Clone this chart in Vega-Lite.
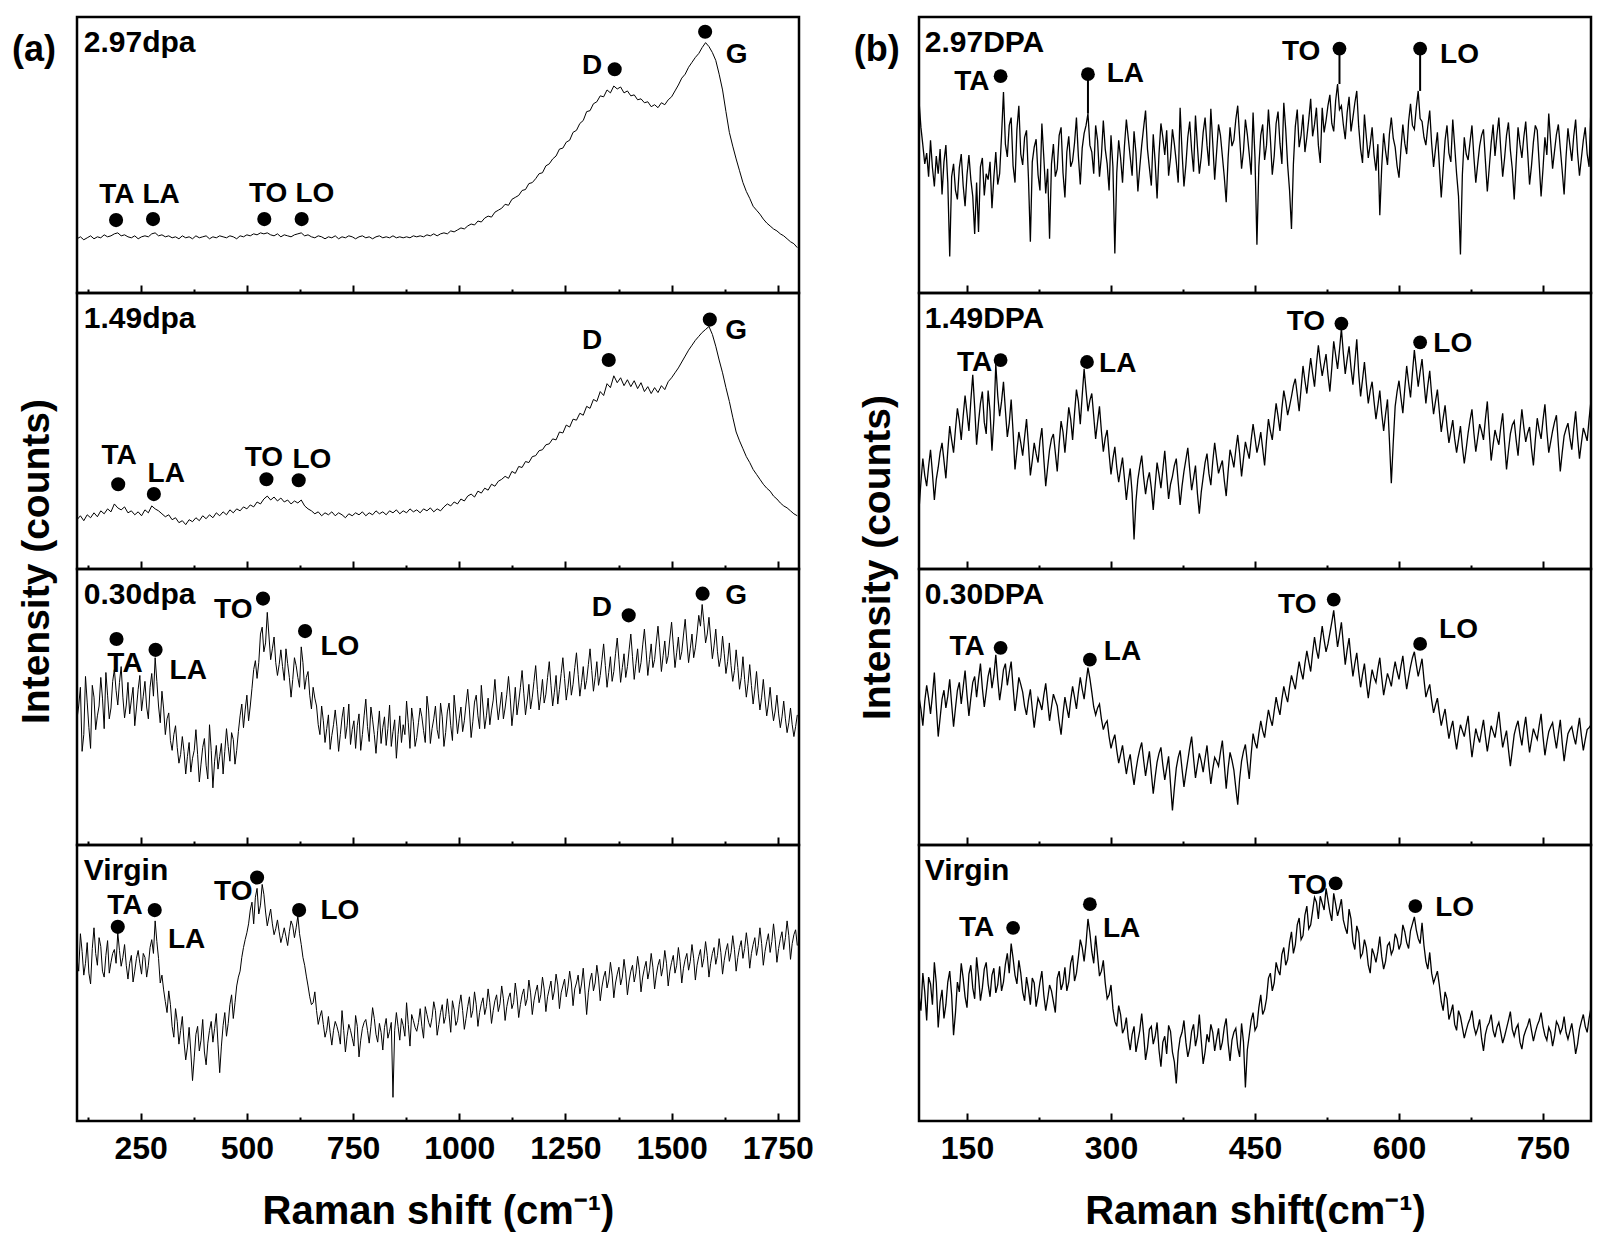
{
"$schema": "https://vega.github.io/schema/vega-lite/v6.json",
"padding": {"left": 10, "top": 15, "right": 5, "bottom": 5},
"background": "white",
"config": {
 "font": "Liberation Sans",
 "view": {"stroke": "black", "strokeWidth": 2.5},
 "axis": {"grid": false, "labelFontWeight": "bold", "titleFontWeight": "bold", "labelColor": "black", "titleColor": "black", "tickColor": "black", "tickWidth": 2, "labelFontSize": 32, "titleFontSize": 40}
},
"datasets": {
"a1": [{"x":100,"y":55},{"x":108,"y":57},{"x":116,"y":54},{"x":124,"y":56},{"x":132,"y":58},{"x":140,"y":55},{"x":148,"y":57},{"x":156,"y":56},{"x":164,"y":59},{"x":172,"y":57},{"x":180,"y":58},{"x":188,"y":60},{"x":196,"y":61},{"x":204,"y":58},{"x":212,"y":59},{"x":220,"y":57},{"x":228,"y":56},{"x":236,"y":58},{"x":244,"y":55},{"x":252,"y":57},{"x":260,"y":58},{"x":268,"y":57},{"x":276,"y":60},{"x":284,"y":61},{"x":292,"y":58},{"x":300,"y":59},{"x":308,"y":57},{"x":316,"y":58},{"x":324,"y":56},{"x":332,"y":57},{"x":340,"y":55},{"x":348,"y":58},{"x":356,"y":56},{"x":364,"y":57},{"x":372,"y":55},{"x":380,"y":58},{"x":388,"y":56},{"x":396,"y":57},{"x":404,"y":58},{"x":412,"y":55},{"x":420,"y":57},{"x":428,"y":56},{"x":436,"y":58},{"x":444,"y":57},{"x":452,"y":56},{"x":460,"y":58},{"x":468,"y":57},{"x":476,"y":55},{"x":484,"y":58},{"x":492,"y":57},{"x":500,"y":59},{"x":508,"y":58},{"x":516,"y":60},{"x":524,"y":59},{"x":532,"y":61},{"x":540,"y":60},{"x":548,"y":61},{"x":556,"y":59},{"x":564,"y":58},{"x":572,"y":60},{"x":580,"y":57},{"x":588,"y":59},{"x":596,"y":58},{"x":604,"y":57},{"x":612,"y":59},{"x":620,"y":60},{"x":628,"y":61},{"x":636,"y":58},{"x":644,"y":59},{"x":652,"y":57},{"x":660,"y":56},{"x":668,"y":58},{"x":676,"y":57},{"x":684,"y":55},{"x":692,"y":57},{"x":700,"y":56},{"x":708,"y":58},{"x":716,"y":55},{"x":724,"y":57},{"x":732,"y":56},{"x":740,"y":58},{"x":748,"y":57},{"x":756,"y":55},{"x":764,"y":57},{"x":772,"y":58},{"x":780,"y":56},{"x":788,"y":57},{"x":796,"y":55},{"x":804,"y":57},{"x":812,"y":58},{"x":820,"y":56},{"x":828,"y":57},{"x":836,"y":56},{"x":844,"y":58},{"x":852,"y":56},{"x":860,"y":57},{"x":868,"y":56},{"x":876,"y":57},{"x":884,"y":56},{"x":892,"y":58},{"x":900,"y":57},{"x":908,"y":58},{"x":916,"y":57},{"x":924,"y":59},{"x":932,"y":58},{"x":940,"y":60},{"x":948,"y":58},{"x":956,"y":60},{"x":964,"y":61},{"x":972,"y":60},{"x":980,"y":63},{"x":988,"y":62},{"x":996,"y":64},{"x":1004,"y":66},{"x":1012,"y":65},{"x":1020,"y":68},{"x":1028,"y":70},{"x":1036,"y":69},{"x":1044,"y":73},{"x":1052,"y":72},{"x":1060,"y":76},{"x":1068,"y":78},{"x":1076,"y":77},{"x":1084,"y":82},{"x":1092,"y":84},{"x":1100,"y":86},{"x":1108,"y":90},{"x":1116,"y":89},{"x":1124,"y":95},{"x":1132,"y":97},{"x":1140,"y":99},{"x":1148,"y":104},{"x":1156,"y":105},{"x":1164,"y":111},{"x":1172,"y":112},{"x":1180,"y":116},{"x":1188,"y":121},{"x":1196,"y":122},{"x":1204,"y":129},{"x":1212,"y":131},{"x":1220,"y":136},{"x":1228,"y":139},{"x":1236,"y":146},{"x":1244,"y":147},{"x":1252,"y":153},{"x":1260,"y":155},{"x":1268,"y":163},{"x":1276,"y":165},{"x":1284,"y":172},{"x":1292,"y":175},{"x":1300,"y":184},{"x":1308,"y":185},{"x":1316,"y":192},{"x":1324,"y":194},{"x":1332,"y":200},{"x":1340,"y":199},{"x":1348,"y":206},{"x":1356,"y":203},{"x":1364,"y":210},{"x":1372,"y":207},{"x":1380,"y":209},{"x":1388,"y":203},{"x":1396,"y":205},{"x":1404,"y":200},{"x":1412,"y":201},{"x":1420,"y":196},{"x":1428,"y":197},{"x":1436,"y":193},{"x":1444,"y":194},{"x":1452,"y":189},{"x":1460,"y":191},{"x":1468,"y":188},{"x":1476,"y":193},{"x":1484,"y":191},{"x":1492,"y":196},{"x":1500,"y":199},{"x":1508,"y":205},{"x":1516,"y":211},{"x":1524,"y":218},{"x":1532,"y":222},{"x":1540,"y":229},{"x":1548,"y":234},{"x":1556,"y":239},{"x":1564,"y":243},{"x":1572,"y":249},{"x":1580,"y":254},{"x":1588,"y":250},{"x":1596,"y":244},{"x":1604,"y":236},{"x":1612,"y":222},{"x":1620,"y":206},{"x":1628,"y":184},{"x":1636,"y":163},{"x":1644,"y":149},{"x":1652,"y":136},{"x":1660,"y":124},{"x":1668,"y":112},{"x":1676,"y":103},{"x":1684,"y":96},{"x":1692,"y":88},{"x":1700,"y":84},{"x":1708,"y":80},{"x":1716,"y":75},{"x":1724,"y":71},{"x":1732,"y":68},{"x":1740,"y":65},{"x":1748,"y":63},{"x":1756,"y":60},{"x":1764,"y":58},{"x":1772,"y":55},{"x":1780,"y":52},{"x":1788,"y":50},{"x":1796,"y":46}],
"a2": [{"x":100,"y":50},{"x":108,"y":54},{"x":116,"y":49},{"x":124,"y":55},{"x":132,"y":52},{"x":140,"y":57},{"x":148,"y":53},{"x":156,"y":59},{"x":164,"y":56},{"x":172,"y":61},{"x":180,"y":58},{"x":188,"y":66},{"x":196,"y":62},{"x":204,"y":60},{"x":212,"y":63},{"x":220,"y":57},{"x":228,"y":59},{"x":236,"y":55},{"x":244,"y":58},{"x":252,"y":54},{"x":260,"y":60},{"x":268,"y":57},{"x":276,"y":64},{"x":284,"y":61},{"x":292,"y":59},{"x":300,"y":56},{"x":308,"y":53},{"x":316,"y":55},{"x":324,"y":50},{"x":332,"y":52},{"x":340,"y":47},{"x":348,"y":49},{"x":356,"y":45},{"x":364,"y":50},{"x":372,"y":48},{"x":380,"y":52},{"x":388,"y":49},{"x":396,"y":54},{"x":404,"y":51},{"x":412,"y":55},{"x":420,"y":52},{"x":428,"y":57},{"x":436,"y":54},{"x":444,"y":58},{"x":452,"y":55},{"x":460,"y":60},{"x":468,"y":57},{"x":476,"y":61},{"x":484,"y":59},{"x":492,"y":63},{"x":500,"y":61},{"x":508,"y":65},{"x":516,"y":63},{"x":524,"y":68},{"x":532,"y":66},{"x":540,"y":71},{"x":548,"y":74},{"x":556,"y":70},{"x":564,"y":73},{"x":572,"y":69},{"x":580,"y":72},{"x":588,"y":68},{"x":596,"y":70},{"x":604,"y":66},{"x":612,"y":69},{"x":620,"y":67},{"x":628,"y":70},{"x":636,"y":64},{"x":644,"y":61},{"x":652,"y":59},{"x":660,"y":56},{"x":668,"y":58},{"x":676,"y":54},{"x":684,"y":57},{"x":692,"y":55},{"x":700,"y":58},{"x":708,"y":54},{"x":716,"y":57},{"x":724,"y":55},{"x":732,"y":52},{"x":740,"y":56},{"x":748,"y":54},{"x":756,"y":57},{"x":764,"y":55},{"x":772,"y":58},{"x":780,"y":54},{"x":788,"y":57},{"x":796,"y":55},{"x":804,"y":59},{"x":812,"y":56},{"x":820,"y":58},{"x":828,"y":55},{"x":836,"y":59},{"x":844,"y":57},{"x":852,"y":60},{"x":860,"y":56},{"x":868,"y":59},{"x":876,"y":57},{"x":884,"y":61},{"x":892,"y":58},{"x":900,"y":60},{"x":908,"y":57},{"x":916,"y":61},{"x":924,"y":59},{"x":932,"y":62},{"x":940,"y":58},{"x":948,"y":61},{"x":956,"y":59},{"x":964,"y":63},{"x":972,"y":66},{"x":980,"y":64},{"x":988,"y":68},{"x":996,"y":66},{"x":1004,"y":71},{"x":1012,"y":69},{"x":1020,"y":74},{"x":1028,"y":76},{"x":1036,"y":73},{"x":1044,"y":79},{"x":1052,"y":77},{"x":1060,"y":82},{"x":1068,"y":80},{"x":1076,"y":86},{"x":1084,"y":84},{"x":1092,"y":89},{"x":1100,"y":91},{"x":1108,"y":94},{"x":1116,"y":92},{"x":1124,"y":99},{"x":1132,"y":97},{"x":1140,"y":104},{"x":1148,"y":103},{"x":1156,"y":109},{"x":1164,"y":108},{"x":1172,"y":114},{"x":1180,"y":115},{"x":1188,"y":120},{"x":1196,"y":121},{"x":1204,"y":126},{"x":1212,"y":127},{"x":1220,"y":132},{"x":1228,"y":131},{"x":1236,"y":139},{"x":1244,"y":138},{"x":1252,"y":146},{"x":1260,"y":144},{"x":1268,"y":152},{"x":1276,"y":151},{"x":1284,"y":158},{"x":1292,"y":156},{"x":1300,"y":165},{"x":1308,"y":163},{"x":1316,"y":172},{"x":1324,"y":170},{"x":1332,"y":180},{"x":1340,"y":176},{"x":1348,"y":188},{"x":1356,"y":184},{"x":1364,"y":196},{"x":1372,"y":189},{"x":1380,"y":194},{"x":1388,"y":186},{"x":1396,"y":192},{"x":1404,"y":185},{"x":1412,"y":191},{"x":1420,"y":183},{"x":1428,"y":189},{"x":1436,"y":180},{"x":1444,"y":185},{"x":1452,"y":178},{"x":1460,"y":184},{"x":1468,"y":179},{"x":1476,"y":186},{"x":1484,"y":182},{"x":1492,"y":190},{"x":1500,"y":194},{"x":1508,"y":199},{"x":1516,"y":204},{"x":1524,"y":210},{"x":1532,"y":216},{"x":1540,"y":222},{"x":1548,"y":227},{"x":1556,"y":232},{"x":1564,"y":236},{"x":1572,"y":240},{"x":1580,"y":243},{"x":1588,"y":246},{"x":1596,"y":238},{"x":1604,"y":226},{"x":1612,"y":212},{"x":1620,"y":199},{"x":1628,"y":184},{"x":1636,"y":170},{"x":1644,"y":154},{"x":1652,"y":139},{"x":1660,"y":130},{"x":1668,"y":122},{"x":1676,"y":114},{"x":1684,"y":108},{"x":1692,"y":101},{"x":1700,"y":96},{"x":1708,"y":91},{"x":1716,"y":86},{"x":1724,"y":82},{"x":1732,"y":79},{"x":1740,"y":74},{"x":1748,"y":71},{"x":1756,"y":67},{"x":1764,"y":64},{"x":1772,"y":62},{"x":1780,"y":59},{"x":1788,"y":56},{"x":1796,"y":54}],
"a3": [{"x":100,"y":128},{"x":104,"y":141},{"x":108,"y":160},{"x":112,"y":95},{"x":116,"y":112},{"x":120,"y":171},{"x":124,"y":145},{"x":128,"y":119},{"x":132,"y":98},{"x":136,"y":162},{"x":140,"y":150},{"x":144,"y":117},{"x":148,"y":131},{"x":152,"y":141},{"x":156,"y":170},{"x":160,"y":149},{"x":164,"y":118},{"x":168,"y":175},{"x":172,"y":152},{"x":176,"y":128},{"x":180,"y":139},{"x":184,"y":166},{"x":188,"y":178},{"x":192,"y":157},{"x":196,"y":142},{"x":200,"y":165},{"x":204,"y":181},{"x":208,"y":150},{"x":212,"y":129},{"x":216,"y":142},{"x":220,"y":165},{"x":224,"y":133},{"x":228,"y":147},{"x":232,"y":160},{"x":236,"y":121},{"x":240,"y":139},{"x":244,"y":158},{"x":248,"y":172},{"x":252,"y":136},{"x":256,"y":151},{"x":260,"y":166},{"x":264,"y":140},{"x":268,"y":128},{"x":272,"y":160},{"x":276,"y":174},{"x":280,"y":151},{"x":284,"y":190},{"x":288,"y":166},{"x":292,"y":141},{"x":296,"y":124},{"x":300,"y":156},{"x":304,"y":138},{"x":308,"y":112},{"x":312,"y":128},{"x":316,"y":134},{"x":320,"y":106},{"x":324,"y":96},{"x":328,"y":112},{"x":332,"y":121},{"x":336,"y":99},{"x":340,"y":83},{"x":344,"y":92},{"x":348,"y":110},{"x":352,"y":95},{"x":356,"y":72},{"x":360,"y":90},{"x":364,"y":104},{"x":368,"y":74},{"x":372,"y":88},{"x":376,"y":96},{"x":380,"y":117},{"x":384,"y":92},{"x":388,"y":64},{"x":392,"y":82},{"x":396,"y":99},{"x":400,"y":108},{"x":404,"y":81},{"x":408,"y":67},{"x":412,"y":122},{"x":416,"y":96},{"x":420,"y":58},{"x":424,"y":85},{"x":428,"y":101},{"x":432,"y":77},{"x":436,"y":90},{"x":440,"y":103},{"x":444,"y":72},{"x":448,"y":95},{"x":452,"y":118},{"x":456,"y":100},{"x":460,"y":85},{"x":464,"y":114},{"x":468,"y":107},{"x":472,"y":82},{"x":476,"y":96},{"x":480,"y":115},{"x":484,"y":131},{"x":488,"y":143},{"x":492,"y":119},{"x":496,"y":137},{"x":500,"y":152},{"x":504,"y":126},{"x":508,"y":141},{"x":512,"y":159},{"x":516,"y":178},{"x":520,"y":187},{"x":524,"y":169},{"x":528,"y":185},{"x":532,"y":214},{"x":536,"y":221},{"x":540,"y":196},{"x":544,"y":205},{"x":548,"y":236},{"x":552,"y":212},{"x":556,"y":188},{"x":560,"y":199},{"x":564,"y":211},{"x":568,"y":185},{"x":572,"y":172},{"x":576,"y":183},{"x":580,"y":198},{"x":584,"y":181},{"x":588,"y":167},{"x":592,"y":199},{"x":596,"y":184},{"x":600,"y":170},{"x":604,"y":150},{"x":608,"y":168},{"x":612,"y":190},{"x":616,"y":182},{"x":620,"y":170},{"x":624,"y":160},{"x":628,"y":201},{"x":632,"y":185},{"x":636,"y":158},{"x":640,"y":170},{"x":644,"y":176},{"x":648,"y":152},{"x":652,"y":138},{"x":656,"y":160},{"x":660,"y":149},{"x":664,"y":141},{"x":668,"y":122},{"x":672,"y":112},{"x":676,"y":141},{"x":680,"y":126},{"x":684,"y":104},{"x":688,"y":118},{"x":692,"y":132},{"x":696,"y":97},{"x":700,"y":111},{"x":704,"y":122},{"x":708,"y":137},{"x":712,"y":120},{"x":716,"y":95},{"x":720,"y":112},{"x":724,"y":129},{"x":728,"y":140},{"x":732,"y":108},{"x":736,"y":121},{"x":740,"y":143},{"x":744,"y":102},{"x":748,"y":117},{"x":752,"y":126},{"x":756,"y":98},{"x":760,"y":121},{"x":764,"y":133},{"x":768,"y":96},{"x":772,"y":112},{"x":776,"y":131},{"x":780,"y":148},{"x":784,"y":120},{"x":788,"y":105},{"x":792,"y":140},{"x":796,"y":127},{"x":800,"y":112},{"x":804,"y":93},{"x":808,"y":116},{"x":812,"y":136},{"x":816,"y":103},{"x":820,"y":119},{"x":824,"y":130},{"x":828,"y":101},{"x":832,"y":118},{"x":836,"y":142},{"x":840,"y":100},{"x":844,"y":115},{"x":848,"y":127},{"x":852,"y":88},{"x":856,"y":112},{"x":860,"y":131},{"x":864,"y":104},{"x":868,"y":122},{"x":872,"y":112},{"x":876,"y":146},{"x":880,"y":124},{"x":884,"y":98},{"x":888,"y":139},{"x":892,"y":125},{"x":896,"y":100},{"x":900,"y":109},{"x":904,"y":124},{"x":908,"y":139},{"x":912,"y":130},{"x":916,"y":116},{"x":920,"y":104},{"x":924,"y":151},{"x":928,"y":136},{"x":932,"y":103},{"x":936,"y":118},{"x":940,"y":128},{"x":944,"y":141},{"x":948,"y":117},{"x":952,"y":108},{"x":956,"y":144},{"x":960,"y":130},{"x":964,"y":100},{"x":968,"y":114},{"x":972,"y":135},{"x":976,"y":144},{"x":980,"y":121},{"x":984,"y":106},{"x":988,"y":152},{"x":992,"y":133},{"x":996,"y":113},{"x":1000,"y":128},{"x":1004,"y":140},{"x":1008,"y":115},{"x":1012,"y":126},{"x":1016,"y":143},{"x":1020,"y":158},{"x":1024,"y":137},{"x":1028,"y":109},{"x":1032,"y":125},{"x":1036,"y":145},{"x":1040,"y":152},{"x":1044,"y":131},{"x":1048,"y":118},{"x":1052,"y":162},{"x":1056,"y":140},{"x":1060,"y":118},{"x":1064,"y":131},{"x":1068,"y":149},{"x":1072,"y":122},{"x":1076,"y":136},{"x":1080,"y":147},{"x":1084,"y":168},{"x":1088,"y":144},{"x":1092,"y":127},{"x":1096,"y":141},{"x":1100,"y":155},{"x":1104,"y":128},{"x":1108,"y":139},{"x":1112,"y":153},{"x":1116,"y":171},{"x":1120,"y":150},{"x":1124,"y":121},{"x":1128,"y":138},{"x":1132,"y":160},{"x":1136,"y":132},{"x":1140,"y":145},{"x":1144,"y":160},{"x":1148,"y":177},{"x":1152,"y":154},{"x":1156,"y":132},{"x":1160,"y":146},{"x":1164,"y":163},{"x":1168,"y":138},{"x":1172,"y":150},{"x":1176,"y":166},{"x":1180,"y":182},{"x":1184,"y":158},{"x":1188,"y":137},{"x":1192,"y":151},{"x":1196,"y":168},{"x":1200,"y":144},{"x":1204,"y":153},{"x":1208,"y":170},{"x":1212,"y":186},{"x":1216,"y":162},{"x":1220,"y":141},{"x":1224,"y":155},{"x":1228,"y":172},{"x":1232,"y":143},{"x":1236,"y":158},{"x":1240,"y":174},{"x":1244,"y":190},{"x":1248,"y":169},{"x":1252,"y":147},{"x":1256,"y":160},{"x":1260,"y":176},{"x":1264,"y":152},{"x":1268,"y":163},{"x":1272,"y":180},{"x":1276,"y":195},{"x":1280,"y":173},{"x":1284,"y":151},{"x":1288,"y":165},{"x":1292,"y":181},{"x":1296,"y":158},{"x":1300,"y":167},{"x":1304,"y":183},{"x":1308,"y":199},{"x":1312,"y":177},{"x":1316,"y":156},{"x":1320,"y":170},{"x":1324,"y":186},{"x":1328,"y":162},{"x":1332,"y":172},{"x":1336,"y":188},{"x":1340,"y":204},{"x":1344,"y":182},{"x":1348,"y":160},{"x":1352,"y":175},{"x":1356,"y":191},{"x":1360,"y":166},{"x":1364,"y":176},{"x":1368,"y":194},{"x":1372,"y":210},{"x":1376,"y":188},{"x":1380,"y":165},{"x":1384,"y":180},{"x":1388,"y":194},{"x":1392,"y":170},{"x":1396,"y":181},{"x":1400,"y":198},{"x":1404,"y":214},{"x":1408,"y":191},{"x":1412,"y":168},{"x":1416,"y":184},{"x":1420,"y":199},{"x":1424,"y":175},{"x":1428,"y":185},{"x":1432,"y":203},{"x":1436,"y":219},{"x":1440,"y":197},{"x":1444,"y":172},{"x":1448,"y":188},{"x":1452,"y":204},{"x":1456,"y":180},{"x":1460,"y":188},{"x":1464,"y":206},{"x":1468,"y":222},{"x":1472,"y":200},{"x":1476,"y":176},{"x":1480,"y":192},{"x":1484,"y":207},{"x":1488,"y":184},{"x":1492,"y":192},{"x":1496,"y":210},{"x":1500,"y":226},{"x":1504,"y":203},{"x":1508,"y":180},{"x":1512,"y":195},{"x":1516,"y":211},{"x":1520,"y":188},{"x":1524,"y":196},{"x":1528,"y":213},{"x":1532,"y":229},{"x":1536,"y":206},{"x":1540,"y":185},{"x":1544,"y":199},{"x":1548,"y":214},{"x":1552,"y":190},{"x":1556,"y":200},{"x":1560,"y":215},{"x":1564,"y":233},{"x":1568,"y":222},{"x":1572,"y":244},{"x":1576,"y":226},{"x":1580,"y":205},{"x":1584,"y":214},{"x":1588,"y":231},{"x":1592,"y":210},{"x":1596,"y":189},{"x":1600,"y":202},{"x":1604,"y":219},{"x":1608,"y":196},{"x":1612,"y":181},{"x":1616,"y":190},{"x":1620,"y":212},{"x":1624,"y":194},{"x":1628,"y":174},{"x":1632,"y":186},{"x":1636,"y":205},{"x":1640,"y":182},{"x":1644,"y":166},{"x":1648,"y":177},{"x":1652,"y":198},{"x":1656,"y":180},{"x":1660,"y":158},{"x":1664,"y":170},{"x":1668,"y":191},{"x":1672,"y":168},{"x":1676,"y":150},{"x":1680,"y":164},{"x":1684,"y":183},{"x":1688,"y":162},{"x":1692,"y":143},{"x":1696,"y":158},{"x":1700,"y":176},{"x":1704,"y":154},{"x":1708,"y":137},{"x":1712,"y":150},{"x":1716,"y":168},{"x":1720,"y":148},{"x":1724,"y":131},{"x":1728,"y":143},{"x":1732,"y":160},{"x":1736,"y":140},{"x":1740,"y":126},{"x":1744,"y":136},{"x":1748,"y":152},{"x":1752,"y":133},{"x":1756,"y":119},{"x":1760,"y":130},{"x":1764,"y":146},{"x":1768,"y":128},{"x":1772,"y":114},{"x":1776,"y":124},{"x":1780,"y":139},{"x":1784,"y":122},{"x":1788,"y":110},{"x":1792,"y":120},{"x":1796,"y":132}],
"a4": [{"x":100,"y":165},{"x":104,"y":152},{"x":108,"y":190},{"x":112,"y":172},{"x":116,"y":148},{"x":120,"y":160},{"x":124,"y":181},{"x":128,"y":150},{"x":132,"y":139},{"x":136,"y":175},{"x":140,"y":196},{"x":144,"y":170},{"x":148,"y":158},{"x":152,"y":186},{"x":156,"y":177},{"x":160,"y":152},{"x":164,"y":146},{"x":168,"y":168},{"x":172,"y":183},{"x":176,"y":150},{"x":180,"y":161},{"x":184,"y":170},{"x":188,"y":174},{"x":192,"y":160},{"x":196,"y":191},{"x":200,"y":173},{"x":204,"y":157},{"x":208,"y":166},{"x":212,"y":179},{"x":216,"y":158},{"x":220,"y":144},{"x":224,"y":160},{"x":228,"y":168},{"x":232,"y":141},{"x":236,"y":152},{"x":240,"y":165},{"x":244,"y":173},{"x":248,"y":160},{"x":252,"y":149},{"x":256,"y":170},{"x":260,"y":166},{"x":264,"y":146},{"x":268,"y":158},{"x":272,"y":176},{"x":276,"y":184},{"x":280,"y":170},{"x":284,"y":203},{"x":288,"y":182},{"x":292,"y":165},{"x":296,"y":140},{"x":300,"y":148},{"x":304,"y":133},{"x":308,"y":121},{"x":312,"y":110},{"x":316,"y":132},{"x":320,"y":118},{"x":324,"y":96},{"x":328,"y":85},{"x":332,"y":114},{"x":336,"y":101},{"x":340,"y":78},{"x":344,"y":92},{"x":348,"y":106},{"x":352,"y":80},{"x":356,"y":62},{"x":360,"y":75},{"x":364,"y":95},{"x":368,"y":70},{"x":372,"y":41},{"x":376,"y":64},{"x":380,"y":88},{"x":384,"y":96},{"x":388,"y":71},{"x":392,"y":82},{"x":396,"y":103},{"x":400,"y":70},{"x":404,"y":57},{"x":408,"y":79},{"x":412,"y":92},{"x":416,"y":101},{"x":420,"y":80},{"x":424,"y":94},{"x":428,"y":109},{"x":432,"y":78},{"x":436,"y":49},{"x":440,"y":76},{"x":444,"y":97},{"x":448,"y":110},{"x":452,"y":86},{"x":456,"y":99},{"x":460,"y":118},{"x":464,"y":128},{"x":468,"y":104},{"x":472,"y":120},{"x":476,"y":137},{"x":480,"y":146},{"x":484,"y":152},{"x":488,"y":166},{"x":492,"y":176},{"x":496,"y":184},{"x":500,"y":191},{"x":504,"y":200},{"x":508,"y":214},{"x":512,"y":222},{"x":516,"y":200},{"x":520,"y":227},{"x":524,"y":236},{"x":528,"y":210},{"x":532,"y":219},{"x":536,"y":240},{"x":540,"y":230},{"x":544,"y":212},{"x":548,"y":198},{"x":552,"y":207},{"x":556,"y":215},{"x":560,"y":200},{"x":564,"y":189},{"x":568,"y":195},{"x":572,"y":204},{"x":576,"y":192},{"x":580,"y":181},{"x":584,"y":188},{"x":588,"y":196},{"x":592,"y":187},{"x":596,"y":178},{"x":600,"y":192},{"x":604,"y":203},{"x":608,"y":198},{"x":612,"y":186},{"x":616,"y":196},{"x":620,"y":208},{"x":624,"y":190},{"x":628,"y":179},{"x":632,"y":166},{"x":636,"y":158},{"x":640,"y":147},{"x":644,"y":137},{"x":648,"y":126},{"x":652,"y":118},{"x":656,"y":120},{"x":660,"y":131},{"x":664,"y":112},{"x":668,"y":98},{"x":672,"y":106},{"x":676,"y":112},{"x":680,"y":98},{"x":684,"y":85},{"x":688,"y":92},{"x":692,"y":106},{"x":696,"y":90},{"x":700,"y":77},{"x":704,"y":92},{"x":708,"y":101},{"x":712,"y":96},{"x":716,"y":89},{"x":720,"y":78},{"x":724,"y":112},{"x":728,"y":92},{"x":732,"y":70},{"x":736,"y":86},{"x":740,"y":98},{"x":744,"y":92},{"x":748,"y":84},{"x":752,"y":76},{"x":756,"y":107},{"x":760,"y":96},{"x":764,"y":65},{"x":768,"y":82},{"x":772,"y":94},{"x":776,"y":100},{"x":780,"y":103},{"x":784,"y":92},{"x":788,"y":79},{"x":792,"y":96},{"x":796,"y":115},{"x":800,"y":104},{"x":804,"y":88},{"x":808,"y":80},{"x":812,"y":99},{"x":816,"y":90},{"x":820,"y":72},{"x":824,"y":95},{"x":828,"y":104},{"x":832,"y":84},{"x":836,"y":91},{"x":840,"y":100},{"x":844,"y":24},{"x":848,"y":92},{"x":852,"y":110},{"x":856,"y":96},{"x":860,"y":82},{"x":864,"y":104},{"x":868,"y":97},{"x":872,"y":86},{"x":876,"y":120},{"x":880,"y":98},{"x":884,"y":76},{"x":888,"y":108},{"x":892,"y":102},{"x":896,"y":95},{"x":900,"y":91},{"x":904,"y":100},{"x":908,"y":114},{"x":912,"y":96},{"x":916,"y":84},{"x":920,"y":116},{"x":924,"y":108},{"x":928,"y":100},{"x":932,"y":95},{"x":936,"y":105},{"x":940,"y":121},{"x":944,"y":112},{"x":948,"y":87},{"x":952,"y":98},{"x":956,"y":110},{"x":960,"y":118},{"x":964,"y":99},{"x":968,"y":106},{"x":972,"y":124},{"x":976,"y":108},{"x":980,"y":90},{"x":984,"y":122},{"x":988,"y":113},{"x":992,"y":97},{"x":996,"y":102},{"x":1000,"y":118},{"x":1004,"y":128},{"x":1008,"y":112},{"x":1012,"y":93},{"x":1016,"y":104},{"x":1020,"y":116},{"x":1024,"y":126},{"x":1028,"y":105},{"x":1032,"y":112},{"x":1036,"y":131},{"x":1040,"y":118},{"x":1044,"y":96},{"x":1048,"y":110},{"x":1052,"y":119},{"x":1056,"y":125},{"x":1060,"y":108},{"x":1064,"y":116},{"x":1068,"y":134},{"x":1072,"y":120},{"x":1076,"y":99},{"x":1080,"y":112},{"x":1084,"y":122},{"x":1088,"y":128},{"x":1092,"y":111},{"x":1096,"y":119},{"x":1100,"y":137},{"x":1104,"y":124},{"x":1108,"y":102},{"x":1112,"y":116},{"x":1116,"y":125},{"x":1120,"y":130},{"x":1124,"y":114},{"x":1128,"y":120},{"x":1132,"y":140},{"x":1136,"y":126},{"x":1140,"y":105},{"x":1144,"y":118},{"x":1148,"y":128},{"x":1152,"y":134},{"x":1156,"y":117},{"x":1160,"y":124},{"x":1164,"y":143},{"x":1168,"y":130},{"x":1172,"y":108},{"x":1176,"y":122},{"x":1180,"y":131},{"x":1184,"y":138},{"x":1188,"y":120},{"x":1192,"y":128},{"x":1196,"y":146},{"x":1200,"y":134},{"x":1204,"y":111},{"x":1208,"y":126},{"x":1212,"y":134},{"x":1216,"y":142},{"x":1220,"y":123},{"x":1224,"y":132},{"x":1228,"y":149},{"x":1232,"y":138},{"x":1236,"y":114},{"x":1240,"y":130},{"x":1244,"y":137},{"x":1248,"y":144},{"x":1252,"y":126},{"x":1256,"y":136},{"x":1260,"y":152},{"x":1264,"y":140},{"x":1268,"y":117},{"x":1272,"y":134},{"x":1276,"y":140},{"x":1280,"y":148},{"x":1284,"y":129},{"x":1288,"y":139},{"x":1292,"y":155},{"x":1296,"y":132},{"x":1300,"y":108},{"x":1304,"y":130},{"x":1308,"y":143},{"x":1312,"y":150},{"x":1316,"y":132},{"x":1320,"y":140},{"x":1324,"y":158},{"x":1328,"y":145},{"x":1332,"y":122},{"x":1336,"y":136},{"x":1340,"y":146},{"x":1344,"y":152},{"x":1348,"y":135},{"x":1352,"y":143},{"x":1356,"y":161},{"x":1360,"y":148},{"x":1364,"y":125},{"x":1368,"y":140},{"x":1372,"y":149},{"x":1376,"y":156},{"x":1380,"y":138},{"x":1384,"y":146},{"x":1388,"y":164},{"x":1392,"y":150},{"x":1396,"y":128},{"x":1400,"y":142},{"x":1404,"y":152},{"x":1408,"y":158},{"x":1412,"y":141},{"x":1416,"y":150},{"x":1420,"y":167},{"x":1424,"y":154},{"x":1428,"y":131},{"x":1432,"y":146},{"x":1436,"y":155},{"x":1440,"y":162},{"x":1444,"y":144},{"x":1448,"y":153},{"x":1452,"y":170},{"x":1456,"y":156},{"x":1460,"y":134},{"x":1464,"y":148},{"x":1468,"y":158},{"x":1472,"y":164},{"x":1476,"y":147},{"x":1480,"y":156},{"x":1484,"y":173},{"x":1488,"y":160},{"x":1492,"y":137},{"x":1496,"y":152},{"x":1500,"y":161},{"x":1504,"y":168},{"x":1508,"y":150},{"x":1512,"y":158},{"x":1516,"y":176},{"x":1520,"y":162},{"x":1524,"y":140},{"x":1528,"y":155},{"x":1532,"y":164},{"x":1536,"y":170},{"x":1540,"y":153},{"x":1544,"y":162},{"x":1548,"y":179},{"x":1552,"y":165},{"x":1556,"y":143},{"x":1560,"y":158},{"x":1564,"y":167},{"x":1568,"y":174},{"x":1572,"y":156},{"x":1576,"y":165},{"x":1580,"y":182},{"x":1584,"y":168},{"x":1588,"y":146},{"x":1592,"y":160},{"x":1596,"y":170},{"x":1600,"y":176},{"x":1604,"y":159},{"x":1608,"y":168},{"x":1612,"y":185},{"x":1616,"y":171},{"x":1620,"y":149},{"x":1624,"y":163},{"x":1628,"y":173},{"x":1632,"y":180},{"x":1636,"y":162},{"x":1640,"y":171},{"x":1644,"y":188},{"x":1648,"y":174},{"x":1652,"y":152},{"x":1656,"y":166},{"x":1660,"y":176},{"x":1664,"y":183},{"x":1668,"y":165},{"x":1672,"y":175},{"x":1676,"y":191},{"x":1680,"y":177},{"x":1684,"y":155},{"x":1688,"y":170},{"x":1692,"y":179},{"x":1696,"y":186},{"x":1700,"y":168},{"x":1704,"y":178},{"x":1708,"y":196},{"x":1712,"y":180},{"x":1716,"y":158},{"x":1720,"y":172},{"x":1724,"y":182},{"x":1728,"y":190},{"x":1732,"y":171},{"x":1736,"y":182},{"x":1740,"y":200},{"x":1744,"y":184},{"x":1748,"y":161},{"x":1752,"y":175},{"x":1756,"y":185},{"x":1760,"y":192},{"x":1764,"y":174},{"x":1768,"y":186},{"x":1772,"y":203},{"x":1776,"y":188},{"x":1780,"y":164},{"x":1784,"y":180},{"x":1788,"y":189},{"x":1792,"y":194},{"x":1796,"y":178}],
"b1": [{"x":100,"y":195},{"x":102,"y":168},{"x":104,"y":150},{"x":106,"y":131},{"x":108,"y":142},{"x":110,"y":118},{"x":112,"y":155},{"x":114,"y":127},{"x":116,"y":108},{"x":118,"y":139},{"x":120,"y":121},{"x":122,"y":146},{"x":124,"y":100},{"x":126,"y":133},{"x":128,"y":150},{"x":130,"y":112},{"x":132,"y":37},{"x":134,"y":118},{"x":136,"y":131},{"x":138,"y":104},{"x":140,"y":95},{"x":142,"y":127},{"x":144,"y":141},{"x":146,"y":109},{"x":148,"y":88},{"x":150,"y":120},{"x":152,"y":140},{"x":154,"y":115},{"x":156,"y":98},{"x":158,"y":60},{"x":160,"y":112},{"x":162,"y":62},{"x":164,"y":128},{"x":166,"y":137},{"x":168,"y":99},{"x":170,"y":121},{"x":172,"y":115},{"x":174,"y":133},{"x":176,"y":86},{"x":178,"y":118},{"x":180,"y":143},{"x":182,"y":110},{"x":184,"y":121},{"x":186,"y":160},{"x":188,"y":204},{"x":190,"y":151},{"x":192,"y":138},{"x":194,"y":170},{"x":196,"y":178},{"x":198,"y":129},{"x":200,"y":112},{"x":202,"y":166},{"x":204,"y":190},{"x":206,"y":141},{"x":208,"y":130},{"x":210,"y":158},{"x":212,"y":165},{"x":214,"y":117},{"x":216,"y":52},{"x":218,"y":133},{"x":220,"y":148},{"x":222,"y":156},{"x":224,"y":120},{"x":226,"y":104},{"x":228,"y":172},{"x":230,"y":138},{"x":232,"y":101},{"x":234,"y":126},{"x":236,"y":55},{"x":238,"y":131},{"x":240,"y":151},{"x":242,"y":118},{"x":244,"y":126},{"x":246,"y":160},{"x":248,"y":168},{"x":250,"y":122},{"x":252,"y":97},{"x":254,"y":143},{"x":256,"y":159},{"x":258,"y":128},{"x":260,"y":134},{"x":262,"y":152},{"x":264,"y":178},{"x":266,"y":139},{"x":268,"y":110},{"x":270,"y":147},{"x":272,"y":162},{"x":274,"y":170},{"x":276,"y":182},{"x":278,"y":150},{"x":280,"y":143},{"x":282,"y":121},{"x":284,"y":170},{"x":286,"y":155},{"x":288,"y":118},{"x":290,"y":139},{"x":292,"y":175},{"x":294,"y":146},{"x":296,"y":131},{"x":298,"y":104},{"x":300,"y":160},{"x":302,"y":128},{"x":304,"y":40},{"x":306,"y":122},{"x":308,"y":155},{"x":310,"y":137},{"x":312,"y":112},{"x":314,"y":149},{"x":316,"y":176},{"x":318,"y":157},{"x":320,"y":138},{"x":322,"y":119},{"x":324,"y":164},{"x":326,"y":142},{"x":328,"y":103},{"x":330,"y":128},{"x":332,"y":150},{"x":334,"y":168},{"x":336,"y":185},{"x":338,"y":146},{"x":340,"y":127},{"x":342,"y":109},{"x":344,"y":161},{"x":346,"y":133},{"x":348,"y":96},{"x":350,"y":141},{"x":352,"y":172},{"x":354,"y":158},{"x":356,"y":140},{"x":358,"y":165},{"x":360,"y":119},{"x":362,"y":137},{"x":364,"y":166},{"x":366,"y":151},{"x":368,"y":133},{"x":370,"y":112},{"x":372,"y":188},{"x":374,"y":143},{"x":376,"y":108},{"x":378,"y":130},{"x":380,"y":158},{"x":382,"y":174},{"x":384,"y":145},{"x":386,"y":123},{"x":388,"y":180},{"x":390,"y":149},{"x":392,"y":121},{"x":394,"y":138},{"x":396,"y":163},{"x":398,"y":178},{"x":400,"y":150},{"x":402,"y":129},{"x":404,"y":187},{"x":406,"y":152},{"x":408,"y":115},{"x":410,"y":143},{"x":412,"y":171},{"x":414,"y":160},{"x":416,"y":139},{"x":418,"y":118},{"x":420,"y":92},{"x":422,"y":137},{"x":424,"y":168},{"x":426,"y":149},{"x":428,"y":155},{"x":430,"y":176},{"x":432,"y":190},{"x":434,"y":158},{"x":436,"y":126},{"x":438,"y":144},{"x":440,"y":176},{"x":442,"y":161},{"x":444,"y":141},{"x":446,"y":120},{"x":448,"y":183},{"x":450,"y":137},{"x":452,"y":49},{"x":454,"y":128},{"x":456,"y":160},{"x":458,"y":171},{"x":460,"y":135},{"x":462,"y":150},{"x":464,"y":186},{"x":466,"y":157},{"x":468,"y":120},{"x":470,"y":139},{"x":472,"y":172},{"x":474,"y":184},{"x":476,"y":152},{"x":478,"y":131},{"x":480,"y":193},{"x":482,"y":166},{"x":484,"y":130},{"x":486,"y":104},{"x":488,"y":65},{"x":490,"y":131},{"x":492,"y":169},{"x":494,"y":186},{"x":496,"y":148},{"x":498,"y":160},{"x":500,"y":181},{"x":502,"y":143},{"x":504,"y":158},{"x":506,"y":176},{"x":508,"y":197},{"x":510,"y":159},{"x":512,"y":171},{"x":514,"y":188},{"x":516,"y":150},{"x":518,"y":132},{"x":520,"y":188},{"x":522,"y":163},{"x":524,"y":175},{"x":526,"y":190},{"x":528,"y":201},{"x":530,"y":172},{"x":532,"y":164},{"x":534,"y":195},{"x":536,"y":212},{"x":538,"y":186},{"x":540,"y":190},{"x":542,"y":171},{"x":544,"y":156},{"x":546,"y":183},{"x":548,"y":199},{"x":550,"y":164},{"x":552,"y":178},{"x":554,"y":193},{"x":556,"y":205},{"x":558,"y":169},{"x":560,"y":146},{"x":562,"y":132},{"x":564,"y":181},{"x":566,"y":158},{"x":568,"y":137},{"x":570,"y":151},{"x":572,"y":168},{"x":574,"y":140},{"x":576,"y":124},{"x":578,"y":151},{"x":580,"y":79},{"x":582,"y":128},{"x":584,"y":162},{"x":586,"y":144},{"x":588,"y":130},{"x":590,"y":161},{"x":592,"y":178},{"x":594,"y":157},{"x":596,"y":148},{"x":598,"y":129},{"x":600,"y":117},{"x":602,"y":146},{"x":604,"y":171},{"x":606,"y":152},{"x":608,"y":141},{"x":610,"y":174},{"x":612,"y":192},{"x":614,"y":170},{"x":616,"y":166},{"x":618,"y":188},{"x":620,"y":205},{"x":622,"y":177},{"x":624,"y":174},{"x":626,"y":158},{"x":628,"y":150},{"x":630,"y":169},{"x":632,"y":185},{"x":634,"y":152},{"x":636,"y":128},{"x":638,"y":146},{"x":640,"y":163},{"x":642,"y":130},{"x":644,"y":97},{"x":646,"y":126},{"x":648,"y":155},{"x":650,"y":170},{"x":652,"y":142},{"x":654,"y":133},{"x":656,"y":176},{"x":658,"y":149},{"x":660,"y":121},{"x":662,"y":98},{"x":664,"y":39},{"x":666,"y":120},{"x":668,"y":158},{"x":670,"y":141},{"x":672,"y":135},{"x":674,"y":153},{"x":676,"y":170},{"x":678,"y":138},{"x":680,"y":112},{"x":682,"y":131},{"x":684,"y":149},{"x":686,"y":160},{"x":688,"y":166},{"x":690,"y":134},{"x":692,"y":103},{"x":694,"y":127},{"x":696,"y":152},{"x":698,"y":171},{"x":700,"y":139},{"x":702,"y":160},{"x":704,"y":178},{"x":706,"y":146},{"x":708,"y":118},{"x":710,"y":137},{"x":712,"y":160},{"x":714,"y":173},{"x":716,"y":145},{"x":718,"y":126},{"x":720,"y":95},{"x":722,"y":132},{"x":724,"y":168},{"x":726,"y":151},{"x":728,"y":137},{"x":730,"y":158},{"x":732,"y":174},{"x":734,"y":143},{"x":736,"y":110},{"x":738,"y":129},{"x":740,"y":153},{"x":742,"y":170},{"x":744,"y":165},{"x":746,"y":132},{"x":748,"y":98},{"x":750,"y":126},{"x":752,"y":158},{"x":754,"y":140},{"x":756,"y":182},{"x":758,"y":153},{"x":760,"y":126},{"x":762,"y":144},{"x":764,"y":161},{"x":766,"y":171},{"x":768,"y":147},{"x":770,"y":124},{"x":772,"y":100},{"x":774,"y":138},{"x":776,"y":167},{"x":778,"y":150},{"x":780,"y":134},{"x":782,"y":159},{"x":784,"y":176},{"x":786,"y":142},{"x":788,"y":119},{"x":790,"y":137},{"x":792,"y":155},{"x":794,"y":168},{"x":796,"y":141},{"x":798,"y":128},{"x":800,"y":190}],
"b2": [{"x":100,"y":60},{"x":102,"y":88},{"x":104,"y":112},{"x":106,"y":95},{"x":108,"y":84},{"x":110,"y":104},{"x":112,"y":121},{"x":114,"y":97},{"x":116,"y":70},{"x":118,"y":91},{"x":120,"y":103},{"x":122,"y":118},{"x":124,"y":128},{"x":126,"y":110},{"x":128,"y":92},{"x":130,"y":120},{"x":132,"y":145},{"x":134,"y":131},{"x":136,"y":118},{"x":138,"y":142},{"x":140,"y":163},{"x":142,"y":150},{"x":144,"y":131},{"x":146,"y":155},{"x":148,"y":176},{"x":150,"y":158},{"x":152,"y":140},{"x":154,"y":171},{"x":156,"y":197},{"x":158,"y":164},{"x":160,"y":126},{"x":162,"y":149},{"x":164,"y":168},{"x":166,"y":180},{"x":168,"y":149},{"x":170,"y":137},{"x":172,"y":181},{"x":174,"y":160},{"x":176,"y":120},{"x":178,"y":152},{"x":180,"y":208},{"x":182,"y":176},{"x":184,"y":155},{"x":186,"y":170},{"x":188,"y":190},{"x":190,"y":161},{"x":192,"y":134},{"x":194,"y":148},{"x":196,"y":172},{"x":198,"y":139},{"x":200,"y":101},{"x":202,"y":120},{"x":204,"y":139},{"x":206,"y":128},{"x":208,"y":115},{"x":210,"y":134},{"x":212,"y":152},{"x":214,"y":126},{"x":216,"y":95},{"x":218,"y":110},{"x":220,"y":128},{"x":222,"y":117},{"x":224,"y":108},{"x":226,"y":130},{"x":228,"y":143},{"x":230,"y":112},{"x":232,"y":84},{"x":234,"y":103},{"x":236,"y":121},{"x":238,"y":132},{"x":240,"y":137},{"x":242,"y":118},{"x":244,"y":99},{"x":246,"y":127},{"x":248,"y":150},{"x":250,"y":139},{"x":252,"y":118},{"x":254,"y":141},{"x":256,"y":164},{"x":258,"y":152},{"x":260,"y":131},{"x":262,"y":158},{"x":264,"y":182},{"x":266,"y":170},{"x":268,"y":147},{"x":270,"y":176},{"x":272,"y":203},{"x":274,"y":181},{"x":276,"y":160},{"x":278,"y":171},{"x":280,"y":178},{"x":282,"y":155},{"x":284,"y":132},{"x":286,"y":149},{"x":288,"y":165},{"x":290,"y":140},{"x":292,"y":119},{"x":294,"y":133},{"x":296,"y":141},{"x":298,"y":117},{"x":300,"y":96},{"x":302,"y":112},{"x":304,"y":124},{"x":306,"y":103},{"x":308,"y":88},{"x":310,"y":101},{"x":312,"y":113},{"x":314,"y":92},{"x":316,"y":70},{"x":318,"y":88},{"x":320,"y":102},{"x":322,"y":77},{"x":324,"y":30},{"x":326,"y":69},{"x":328,"y":91},{"x":330,"y":104},{"x":332,"y":115},{"x":334,"y":93},{"x":336,"y":76},{"x":338,"y":90},{"x":340,"y":98},{"x":342,"y":82},{"x":344,"y":60},{"x":346,"y":85},{"x":348,"y":108},{"x":350,"y":96},{"x":352,"y":82},{"x":354,"y":101},{"x":356,"y":120},{"x":358,"y":95},{"x":360,"y":71},{"x":362,"y":86},{"x":364,"y":94},{"x":366,"y":105},{"x":368,"y":112},{"x":370,"y":88},{"x":372,"y":65},{"x":374,"y":84},{"x":376,"y":99},{"x":378,"y":111},{"x":380,"y":123},{"x":382,"y":101},{"x":384,"y":80},{"x":386,"y":92},{"x":388,"y":105},{"x":390,"y":77},{"x":392,"y":56},{"x":394,"y":78},{"x":396,"y":93},{"x":398,"y":108},{"x":400,"y":117},{"x":402,"y":97},{"x":404,"y":85},{"x":406,"y":109},{"x":408,"y":128},{"x":410,"y":112},{"x":412,"y":97},{"x":414,"y":104},{"x":416,"y":110},{"x":418,"y":90},{"x":420,"y":74},{"x":422,"y":99},{"x":424,"y":121},{"x":426,"y":113},{"x":428,"y":103},{"x":430,"y":121},{"x":432,"y":136},{"x":434,"y":117},{"x":436,"y":94},{"x":438,"y":112},{"x":440,"y":129},{"x":442,"y":120},{"x":444,"y":112},{"x":446,"y":131},{"x":448,"y":147},{"x":450,"y":133},{"x":452,"y":118},{"x":454,"y":127},{"x":456,"y":139},{"x":458,"y":122},{"x":460,"y":105},{"x":462,"y":131},{"x":464,"y":152},{"x":466,"y":140},{"x":468,"y":131},{"x":470,"y":150},{"x":472,"y":168},{"x":474,"y":155},{"x":476,"y":140},{"x":478,"y":163},{"x":480,"y":181},{"x":482,"y":170},{"x":484,"y":156},{"x":486,"y":165},{"x":488,"y":175},{"x":490,"y":186},{"x":492,"y":193},{"x":494,"y":177},{"x":496,"y":160},{"x":498,"y":183},{"x":500,"y":206},{"x":502,"y":191},{"x":504,"y":178},{"x":506,"y":197},{"x":508,"y":214},{"x":510,"y":199},{"x":512,"y":185},{"x":514,"y":208},{"x":516,"y":227},{"x":518,"y":210},{"x":520,"y":196},{"x":522,"y":207},{"x":524,"y":218},{"x":526,"y":197},{"x":528,"y":180},{"x":530,"y":204},{"x":532,"y":231},{"x":534,"y":217},{"x":536,"y":203},{"x":538,"y":222},{"x":540,"y":244},{"x":542,"y":219},{"x":544,"y":198},{"x":546,"y":213},{"x":548,"y":226},{"x":550,"y":204},{"x":552,"y":187},{"x":554,"y":210},{"x":556,"y":233},{"x":558,"y":199},{"x":560,"y":175},{"x":562,"y":192},{"x":564,"y":210},{"x":566,"y":188},{"x":568,"y":168},{"x":570,"y":181},{"x":572,"y":190},{"x":574,"y":170},{"x":576,"y":152},{"x":578,"y":166},{"x":580,"y":181},{"x":582,"y":158},{"x":584,"y":140},{"x":586,"y":157},{"x":588,"y":172},{"x":590,"y":131},{"x":592,"y":87},{"x":594,"y":128},{"x":596,"y":165},{"x":598,"y":180},{"x":600,"y":191},{"x":602,"y":174},{"x":604,"y":158},{"x":606,"y":183},{"x":608,"y":206},{"x":610,"y":189},{"x":612,"y":174},{"x":614,"y":199},{"x":616,"y":222},{"x":618,"y":203},{"x":620,"y":185},{"x":622,"y":200},{"x":624,"y":213},{"x":626,"y":190},{"x":628,"y":168},{"x":630,"y":186},{"x":632,"y":201},{"x":634,"y":177},{"x":636,"y":157},{"x":638,"y":170},{"x":640,"y":182},{"x":642,"y":160},{"x":644,"y":139},{"x":646,"y":153},{"x":648,"y":166},{"x":650,"y":145},{"x":652,"y":128},{"x":654,"y":140},{"x":656,"y":151},{"x":658,"y":132},{"x":660,"y":118},{"x":662,"y":131},{"x":664,"y":145},{"x":666,"y":124},{"x":668,"y":107},{"x":670,"y":122},{"x":672,"y":138},{"x":674,"y":151},{"x":676,"y":162},{"x":678,"y":138},{"x":680,"y":119},{"x":682,"y":133},{"x":684,"y":147},{"x":686,"y":140},{"x":688,"y":131},{"x":690,"y":152},{"x":692,"y":170},{"x":694,"y":139},{"x":696,"y":110},{"x":698,"y":126},{"x":700,"y":141},{"x":702,"y":133},{"x":704,"y":126},{"x":706,"y":144},{"x":708,"y":158},{"x":710,"y":128},{"x":712,"y":101},{"x":714,"y":120},{"x":716,"y":137},{"x":718,"y":146},{"x":720,"y":150},{"x":722,"y":131},{"x":724,"y":115},{"x":726,"y":140},{"x":728,"y":162},{"x":730,"y":144},{"x":732,"y":129},{"x":734,"y":138},{"x":736,"y":144},{"x":738,"y":122},{"x":740,"y":105},{"x":742,"y":131},{"x":744,"y":153},{"x":746,"y":141},{"x":748,"y":132},{"x":750,"y":151},{"x":752,"y":167},{"x":754,"y":140},{"x":756,"y":118},{"x":758,"y":129},{"x":760,"y":140},{"x":762,"y":149},{"x":764,"y":156},{"x":766,"y":126},{"x":768,"y":99},{"x":770,"y":118},{"x":772,"y":135},{"x":774,"y":142},{"x":776,"y":148},{"x":778,"y":133},{"x":780,"y":121},{"x":782,"y":142},{"x":784,"y":160},{"x":786,"y":134},{"x":788,"y":112},{"x":790,"y":128},{"x":792,"y":143},{"x":794,"y":137},{"x":796,"y":130},{"x":798,"y":152},{"x":800,"y":171}],
"b3": [{"x":100,"y":150},{"x":102,"y":138},{"x":104,"y":121},{"x":106,"y":146},{"x":108,"y":162},{"x":110,"y":149},{"x":112,"y":133},{"x":114,"y":152},{"x":116,"y":175},{"x":118,"y":141},{"x":120,"y":110},{"x":122,"y":129},{"x":124,"y":148},{"x":126,"y":157},{"x":128,"y":139},{"x":130,"y":151},{"x":132,"y":168},{"x":134,"y":143},{"x":136,"y":120},{"x":138,"y":139},{"x":140,"y":157},{"x":142,"y":165},{"x":144,"y":143},{"x":146,"y":160},{"x":148,"y":177},{"x":150,"y":152},{"x":152,"y":131},{"x":154,"y":149},{"x":156,"y":165},{"x":158,"y":171},{"x":160,"y":150},{"x":162,"y":168},{"x":164,"y":184},{"x":166,"y":159},{"x":168,"y":140},{"x":170,"y":155},{"x":172,"y":171},{"x":174,"y":180},{"x":176,"y":159},{"x":178,"y":172},{"x":180,"y":193},{"x":182,"y":168},{"x":184,"y":147},{"x":186,"y":161},{"x":188,"y":178},{"x":190,"y":184},{"x":192,"y":162},{"x":194,"y":175},{"x":196,"y":186},{"x":198,"y":160},{"x":200,"y":136},{"x":202,"y":152},{"x":204,"y":170},{"x":206,"y":163},{"x":208,"y":155},{"x":210,"y":141},{"x":212,"y":132},{"x":214,"y":147},{"x":216,"y":158},{"x":218,"y":138},{"x":220,"y":119},{"x":222,"y":135},{"x":224,"y":149},{"x":226,"y":144},{"x":228,"y":137},{"x":230,"y":152},{"x":232,"y":164},{"x":234,"y":145},{"x":236,"y":126},{"x":238,"y":140},{"x":240,"y":153},{"x":242,"y":147},{"x":244,"y":141},{"x":246,"y":125},{"x":248,"y":112},{"x":250,"y":133},{"x":252,"y":150},{"x":254,"y":139},{"x":256,"y":129},{"x":258,"y":147},{"x":260,"y":161},{"x":262,"y":150},{"x":264,"y":138},{"x":266,"y":155},{"x":268,"y":170},{"x":270,"y":158},{"x":272,"y":148},{"x":274,"y":165},{"x":276,"y":180},{"x":278,"y":169},{"x":280,"y":155},{"x":282,"y":140},{"x":284,"y":132},{"x":286,"y":139},{"x":288,"y":143},{"x":290,"y":128},{"x":292,"y":117},{"x":294,"y":123},{"x":296,"y":126},{"x":298,"y":110},{"x":300,"y":98},{"x":302,"y":106},{"x":304,"y":112},{"x":306,"y":96},{"x":308,"y":83},{"x":310,"y":92},{"x":312,"y":101},{"x":314,"y":86},{"x":316,"y":72},{"x":318,"y":84},{"x":320,"y":92},{"x":322,"y":75},{"x":324,"y":61},{"x":326,"y":76},{"x":328,"y":88},{"x":330,"y":97},{"x":332,"y":104},{"x":334,"y":86},{"x":336,"y":70},{"x":338,"y":83},{"x":340,"y":95},{"x":342,"y":73},{"x":344,"y":52},{"x":346,"y":69},{"x":348,"y":84},{"x":350,"y":93},{"x":352,"y":99},{"x":354,"y":81},{"x":356,"y":66},{"x":358,"y":78},{"x":360,"y":90},{"x":362,"y":62},{"x":364,"y":35},{"x":366,"y":58},{"x":368,"y":78},{"x":370,"y":89},{"x":372,"y":96},{"x":374,"y":77},{"x":376,"y":59},{"x":378,"y":73},{"x":380,"y":86},{"x":382,"y":99},{"x":384,"y":110},{"x":386,"y":88},{"x":388,"y":68},{"x":390,"y":81},{"x":392,"y":93},{"x":394,"y":85},{"x":396,"y":74},{"x":398,"y":88},{"x":400,"y":101},{"x":402,"y":80},{"x":404,"y":62},{"x":406,"y":77},{"x":408,"y":89},{"x":410,"y":85},{"x":412,"y":80},{"x":414,"y":94},{"x":416,"y":106},{"x":418,"y":82},{"x":420,"y":57},{"x":422,"y":78},{"x":424,"y":94},{"x":426,"y":86},{"x":428,"y":76},{"x":430,"y":58},{"x":432,"y":41},{"x":434,"y":67},{"x":436,"y":85},{"x":438,"y":95},{"x":440,"y":102},{"x":442,"y":84},{"x":444,"y":67},{"x":446,"y":92},{"x":448,"y":113},{"x":450,"y":104},{"x":452,"y":98},{"x":454,"y":113},{"x":456,"y":126},{"x":458,"y":116},{"x":460,"y":109},{"x":462,"y":124},{"x":464,"y":137},{"x":466,"y":128},{"x":468,"y":121},{"x":470,"y":136},{"x":472,"y":150},{"x":474,"y":140},{"x":476,"y":132},{"x":478,"y":148},{"x":480,"y":161},{"x":482,"y":152},{"x":484,"y":145},{"x":486,"y":160},{"x":488,"y":172},{"x":490,"y":165},{"x":492,"y":158},{"x":494,"y":173},{"x":496,"y":186},{"x":498,"y":176},{"x":500,"y":168},{"x":502,"y":184},{"x":504,"y":197},{"x":506,"y":186},{"x":508,"y":176},{"x":510,"y":195},{"x":512,"y":211},{"x":514,"y":198},{"x":516,"y":189},{"x":518,"y":206},{"x":520,"y":222},{"x":522,"y":208},{"x":524,"y":196},{"x":526,"y":204},{"x":528,"y":215},{"x":530,"y":226},{"x":532,"y":238},{"x":534,"y":219},{"x":536,"y":201},{"x":538,"y":213},{"x":540,"y":226},{"x":542,"y":204},{"x":544,"y":183},{"x":546,"y":198},{"x":548,"y":210},{"x":550,"y":189},{"x":552,"y":171},{"x":554,"y":184},{"x":556,"y":195},{"x":558,"y":176},{"x":560,"y":160},{"x":562,"y":173},{"x":564,"y":184},{"x":566,"y":165},{"x":568,"y":149},{"x":570,"y":164},{"x":572,"y":178},{"x":574,"y":170},{"x":576,"y":165},{"x":578,"y":179},{"x":580,"y":190},{"x":582,"y":170},{"x":584,"y":152},{"x":586,"y":163},{"x":588,"y":174},{"x":590,"y":168},{"x":592,"y":161},{"x":594,"y":175},{"x":596,"y":186},{"x":598,"y":176},{"x":600,"y":168},{"x":602,"y":181},{"x":604,"y":192},{"x":606,"y":174},{"x":608,"y":158},{"x":610,"y":170},{"x":612,"y":181},{"x":614,"y":190},{"x":616,"y":196},{"x":618,"y":183},{"x":620,"y":171},{"x":622,"y":180},{"x":624,"y":189},{"x":626,"y":168},{"x":628,"y":150},{"x":630,"y":157},{"x":632,"y":163},{"x":634,"y":147},{"x":636,"y":134},{"x":638,"y":142},{"x":640,"y":149},{"x":642,"y":134},{"x":644,"y":121},{"x":646,"y":130},{"x":648,"y":138},{"x":650,"y":122},{"x":652,"y":108},{"x":654,"y":118},{"x":656,"y":126},{"x":658,"y":110},{"x":660,"y":97},{"x":662,"y":111},{"x":664,"y":122},{"x":666,"y":116},{"x":668,"y":110},{"x":670,"y":121},{"x":672,"y":131},{"x":674,"y":108},{"x":676,"y":89},{"x":678,"y":104},{"x":680,"y":118},{"x":682,"y":110},{"x":684,"y":104},{"x":686,"y":116},{"x":688,"y":127},{"x":690,"y":110},{"x":692,"y":95},{"x":694,"y":108},{"x":696,"y":121},{"x":698,"y":115},{"x":700,"y":109},{"x":702,"y":122},{"x":704,"y":135},{"x":706,"y":116},{"x":708,"y":99},{"x":710,"y":108},{"x":712,"y":116},{"x":714,"y":97},{"x":716,"y":80},{"x":718,"y":96},{"x":720,"y":112},{"x":722,"y":120},{"x":724,"y":126},{"x":726,"y":112},{"x":728,"y":101},{"x":730,"y":117},{"x":732,"y":130},{"x":734,"y":111},{"x":736,"y":94},{"x":738,"y":106},{"x":740,"y":118},{"x":742,"y":112},{"x":744,"y":107},{"x":746,"y":121},{"x":748,"y":133},{"x":750,"y":110},{"x":752,"y":91},{"x":754,"y":104},{"x":756,"y":115},{"x":758,"y":120},{"x":760,"y":124},{"x":762,"y":110},{"x":764,"y":98},{"x":766,"y":113},{"x":768,"y":127},{"x":770,"y":104},{"x":772,"y":85},{"x":774,"y":100},{"x":776,"y":113},{"x":778,"y":117},{"x":780,"y":120},{"x":782,"y":110},{"x":784,"y":102},{"x":786,"y":116},{"x":788,"y":129},{"x":790,"y":111},{"x":792,"y":96},{"x":794,"y":107},{"x":796,"y":117},{"x":798,"y":119},{"x":800,"y":122}],
"b4": [{"x":100,"y":128},{"x":102,"y":112},{"x":104,"y":150},{"x":106,"y":131},{"x":108,"y":102},{"x":110,"y":146},{"x":112,"y":139},{"x":114,"y":118},{"x":116,"y":161},{"x":118,"y":140},{"x":120,"y":95},{"x":122,"y":121},{"x":124,"y":133},{"x":126,"y":104},{"x":128,"y":118},{"x":130,"y":141},{"x":132,"y":152},{"x":134,"y":128},{"x":136,"y":87},{"x":138,"y":110},{"x":140,"y":141},{"x":142,"y":131},{"x":144,"y":160},{"x":146,"y":145},{"x":148,"y":126},{"x":150,"y":115},{"x":152,"y":149},{"x":154,"y":158},{"x":156,"y":135},{"x":158,"y":124},{"x":160,"y":166},{"x":162,"y":147},{"x":164,"y":122},{"x":166,"y":135},{"x":168,"y":154},{"x":170,"y":161},{"x":172,"y":139},{"x":174,"y":126},{"x":176,"y":148},{"x":178,"y":155},{"x":180,"y":130},{"x":182,"y":138},{"x":184,"y":157},{"x":186,"y":132},{"x":188,"y":141},{"x":190,"y":159},{"x":192,"y":170},{"x":194,"y":150},{"x":196,"y":180},{"x":198,"y":165},{"x":200,"y":148},{"x":202,"y":139},{"x":204,"y":163},{"x":206,"y":150},{"x":208,"y":131},{"x":210,"y":122},{"x":212,"y":146},{"x":214,"y":134},{"x":216,"y":118},{"x":218,"y":145},{"x":220,"y":140},{"x":222,"y":116},{"x":224,"y":127},{"x":226,"y":141},{"x":228,"y":152},{"x":230,"y":128},{"x":232,"y":112},{"x":234,"y":124},{"x":236,"y":138},{"x":238,"y":132},{"x":240,"y":121},{"x":242,"y":110},{"x":244,"y":145},{"x":246,"y":152},{"x":248,"y":133},{"x":250,"y":140},{"x":252,"y":156},{"x":254,"y":132},{"x":256,"y":141},{"x":258,"y":160},{"x":260,"y":168},{"x":262,"y":142},{"x":264,"y":150},{"x":266,"y":166},{"x":268,"y":184},{"x":270,"y":176},{"x":272,"y":162},{"x":274,"y":180},{"x":276,"y":205},{"x":278,"y":191},{"x":280,"y":172},{"x":282,"y":160},{"x":284,"y":188},{"x":286,"y":168},{"x":288,"y":147},{"x":290,"y":152},{"x":292,"y":163},{"x":294,"y":140},{"x":296,"y":124},{"x":298,"y":128},{"x":300,"y":138},{"x":302,"y":114},{"x":304,"y":101},{"x":306,"y":96},{"x":308,"y":117},{"x":310,"y":108},{"x":312,"y":89},{"x":314,"y":94},{"x":316,"y":105},{"x":318,"y":84},{"x":320,"y":72},{"x":322,"y":88},{"x":324,"y":96},{"x":326,"y":70},{"x":328,"y":81},{"x":330,"y":92},{"x":332,"y":109},{"x":334,"y":88},{"x":336,"y":62},{"x":338,"y":74},{"x":340,"y":93},{"x":342,"y":96},{"x":344,"y":78},{"x":346,"y":86},{"x":348,"y":100},{"x":350,"y":72},{"x":352,"y":55},{"x":354,"y":80},{"x":356,"y":86},{"x":358,"y":68},{"x":360,"y":97},{"x":362,"y":91},{"x":364,"y":70},{"x":366,"y":60},{"x":368,"y":38},{"x":370,"y":70},{"x":372,"y":84},{"x":374,"y":90},{"x":376,"y":102},{"x":378,"y":80},{"x":380,"y":65},{"x":382,"y":74},{"x":384,"y":91},{"x":386,"y":98},{"x":388,"y":76},{"x":390,"y":86},{"x":392,"y":108},{"x":394,"y":82},{"x":396,"y":58},{"x":398,"y":70},{"x":400,"y":88},{"x":402,"y":80},{"x":404,"y":98},{"x":406,"y":90},{"x":408,"y":71},{"x":410,"y":83},{"x":412,"y":94},{"x":414,"y":72},{"x":416,"y":80},{"x":418,"y":95},{"x":420,"y":104},{"x":422,"y":79},{"x":424,"y":61},{"x":426,"y":82},{"x":428,"y":90},{"x":430,"y":94},{"x":432,"y":75},{"x":434,"y":65},{"x":436,"y":99},{"x":438,"y":80},{"x":440,"y":34},{"x":442,"y":72},{"x":444,"y":87},{"x":446,"y":102},{"x":448,"y":110},{"x":450,"y":92},{"x":452,"y":96},{"x":454,"y":115},{"x":456,"y":128},{"x":458,"y":108},{"x":460,"y":113},{"x":462,"y":124},{"x":464,"y":145},{"x":466,"y":150},{"x":468,"y":132},{"x":470,"y":140},{"x":472,"y":161},{"x":474,"y":153},{"x":476,"y":148},{"x":478,"y":169},{"x":480,"y":176},{"x":482,"y":158},{"x":484,"y":164},{"x":486,"y":181},{"x":488,"y":192},{"x":490,"y":170},{"x":492,"y":179},{"x":494,"y":199},{"x":496,"y":206},{"x":498,"y":184},{"x":500,"y":188},{"x":502,"y":209},{"x":504,"y":218},{"x":506,"y":195},{"x":508,"y":199},{"x":510,"y":213},{"x":512,"y":227},{"x":514,"y":222},{"x":516,"y":205},{"x":518,"y":228},{"x":520,"y":221},{"x":522,"y":214},{"x":524,"y":236},{"x":526,"y":224},{"x":528,"y":212},{"x":530,"y":203},{"x":532,"y":231},{"x":534,"y":220},{"x":536,"y":208},{"x":538,"y":216},{"x":540,"y":225},{"x":542,"y":204},{"x":544,"y":196},{"x":546,"y":190},{"x":548,"y":215},{"x":550,"y":205},{"x":552,"y":182},{"x":554,"y":174},{"x":556,"y":198},{"x":558,"y":191},{"x":560,"y":166},{"x":562,"y":170},{"x":564,"y":184},{"x":566,"y":176},{"x":568,"y":158},{"x":570,"y":150},{"x":572,"y":175},{"x":574,"y":169},{"x":576,"y":161},{"x":578,"y":172},{"x":580,"y":187},{"x":582,"y":167},{"x":584,"y":154},{"x":586,"y":162},{"x":588,"y":178},{"x":590,"y":181},{"x":592,"y":169},{"x":594,"y":174},{"x":596,"y":190},{"x":598,"y":185},{"x":600,"y":174},{"x":602,"y":180},{"x":604,"y":199},{"x":606,"y":192},{"x":608,"y":181},{"x":610,"y":175},{"x":612,"y":193},{"x":614,"y":200},{"x":616,"y":207},{"x":618,"y":194},{"x":620,"y":185},{"x":622,"y":180},{"x":624,"y":201},{"x":626,"y":178},{"x":628,"y":162},{"x":630,"y":154},{"x":632,"y":171},{"x":634,"y":150},{"x":636,"y":140},{"x":638,"y":146},{"x":640,"y":152},{"x":642,"y":138},{"x":644,"y":121},{"x":646,"y":112},{"x":648,"y":131},{"x":650,"y":124},{"x":652,"y":103},{"x":654,"y":110},{"x":656,"y":118},{"x":658,"y":98},{"x":660,"y":92},{"x":662,"y":112},{"x":664,"y":106},{"x":666,"y":95},{"x":668,"y":84},{"x":670,"y":92},{"x":672,"y":99},{"x":674,"y":104},{"x":676,"y":112},{"x":678,"y":96},{"x":680,"y":88},{"x":682,"y":94},{"x":684,"y":103},{"x":686,"y":84},{"x":688,"y":71},{"x":690,"y":88},{"x":692,"y":96},{"x":694,"y":100},{"x":696,"y":108},{"x":698,"y":92},{"x":700,"y":85},{"x":702,"y":95},{"x":704,"y":100},{"x":706,"y":90},{"x":708,"y":79},{"x":710,"y":86},{"x":712,"y":94},{"x":714,"y":102},{"x":716,"y":111},{"x":718,"y":93},{"x":720,"y":86},{"x":722,"y":94},{"x":724,"y":98},{"x":726,"y":80},{"x":728,"y":73},{"x":730,"y":86},{"x":732,"y":92},{"x":734,"y":97},{"x":736,"y":104},{"x":738,"y":92},{"x":740,"y":81},{"x":742,"y":90},{"x":744,"y":97},{"x":746,"y":102},{"x":748,"y":110},{"x":750,"y":96},{"x":752,"y":87},{"x":754,"y":82},{"x":756,"y":95},{"x":758,"y":90},{"x":760,"y":76},{"x":762,"y":86},{"x":764,"y":101},{"x":766,"y":97},{"x":768,"y":89},{"x":770,"y":94},{"x":772,"y":106},{"x":774,"y":90},{"x":776,"y":83},{"x":778,"y":91},{"x":780,"y":99},{"x":782,"y":85},{"x":784,"y":68},{"x":786,"y":78},{"x":788,"y":93},{"x":790,"y":101},{"x":792,"y":108},{"x":794,"y":96},{"x":796,"y":90},{"x":798,"y":104},{"x":800,"y":115}],
"ma1": [{"k":"tag","x":-53,"y":247,"t":"(a)"},{"k":"name","x":116,"y":245,"t":"2.97dpa"},{"k":"dot","x":192,"y":74},{"k":"dot","x":279,"y":75},{"k":"dot","x":541,"y":75},{"k":"dot","x":629,"y":75},{"k":"dot","x":1366,"y":227},{"k":"dot","x":1579,"y":265},{"k":"lab","x":194,"y":99,"t":"TA"},{"k":"lab","x":298,"y":99,"t":"LA"},{"k":"lab","x":550,"y":100,"t":"TO"},{"k":"lab","x":660,"y":100,"t":"LO"},{"k":"lab","x":1313,"y":230,"t":"D"},{"k":"lab","x":1653,"y":241,"t":"G"}],
"ma2": [{"k":"name","x":116,"y":245,"t":"1.49dpa"},{"k":"dot","x":197,"y":86},{"k":"dot","x":281,"y":76},{"k":"dot","x":546,"y":91},{"k":"dot","x":622,"y":90},{"k":"dot","x":1352,"y":212},{"k":"dot","x":1590,"y":253},{"k":"lab","x":199,"y":115,"t":"TA"},{"k":"lab","x":310,"y":96,"t":"LA"},{"k":"lab","x":540,"y":113,"t":"TO"},{"k":"lab","x":653,"y":111,"t":"LO"},{"k":"lab","x":1313,"y":231,"t":"D"},{"k":"lab","x":1652,"y":241,"t":"G"}],
"ma3": [{"k":"name","x":116,"y":245,"t":"0.30dpa"},{"k":"dot","x":193,"y":209},{"k":"dot","x":285,"y":198},{"k":"dot","x":538,"y":250},{"k":"dot","x":637,"y":217},{"k":"dot","x":1399,"y":233},{"k":"dot","x":1573,"y":255},{"k":"lab","x":213,"y":184,"t":"TA"},{"k":"lab","x":362,"y":177,"t":"LA"},{"k":"lab","x":468,"y":238,"t":"TO"},{"k":"lab","x":719,"y":201,"t":"LO"},{"k":"lab","x":1336,"y":240,"t":"D"},{"k":"lab","x":1652,"y":253,"t":"G"}],
"ma4": [{"k":"name","x":116,"y":245,"t":"Virgin"},{"k":"dot","x":196,"y":197},{"k":"dot","x":283,"y":214},{"k":"dot","x":524,"y":247},{"k":"dot","x":623,"y":214},{"k":"lab","x":213,"y":218,"t":"TA"},{"k":"lab","x":358,"y":184,"t":"LA"},{"k":"lab","x":468,"y":232,"t":"TO"},{"k":"lab","x":719,"y":213,"t":"LO"}],
"mb1": [{"k":"tag","x":32,"y":247,"t":"(b)"},{"k":"name","x":106,"y":245,"t":"2.97DPA"},{"k":"dot","x":185,"y":220},{"k":"dot","x":276,"y":222},{"k":"dot","x":538,"y":248},{"k":"dot","x":622,"y":248},{"k":"stem","x":276,"y":222,"y2":182},{"k":"stem","x":538,"y":248,"y2":212},{"k":"stem","x":622,"y":248,"y2":205},{"k":"lab","x":155,"y":214,"t":"TA"},{"k":"lab","x":315,"y":222,"t":"LA"},{"k":"lab","x":498,"y":244,"t":"TO"},{"k":"lab","x":663,"y":241,"t":"LO"}],
"mb2": [{"k":"name","x":106,"y":245,"t":"1.49DPA"},{"k":"dot","x":185,"y":212},{"k":"dot","x":275,"y":210},{"k":"dot","x":540,"y":249},{"k":"dot","x":622,"y":230},{"k":"lab","x":158,"y":209,"t":"TA"},{"k":"lab","x":307,"y":208,"t":"LA"},{"k":"lab","x":503,"y":251,"t":"TO"},{"k":"lab","x":656,"y":228,"t":"LO"}],
"mb3": [{"k":"name","x":106,"y":245,"t":"0.30DPA"},{"k":"dot","x":185,"y":200},{"k":"dot","x":278,"y":188},{"k":"dot","x":532,"y":249},{"k":"dot","x":622,"y":204},{"k":"lab","x":150,"y":201,"t":"TA"},{"k":"lab","x":312,"y":196,"t":"LA"},{"k":"lab","x":494,"y":243,"t":"TO"},{"k":"lab","x":662,"y":218,"t":"LO"}],
"mb4": [{"k":"name","x":106,"y":245,"t":"Virgin"},{"k":"dot","x":198,"y":196},{"k":"dot","x":278,"y":220},{"k":"dot","x":534,"y":241},{"k":"dot","x":617,"y":218},{"k":"lab","x":160,"y":196,"t":"TA"},{"k":"lab","x":311,"y":195,"t":"LA"},{"k":"lab","x":505,"y":238,"t":"TO"},{"k":"lab","x":658,"y":216,"t":"LO"}]
},
"columns": 2,
"spacing": {"row": 0, "column": 120},
"bounds": "flush",
"concat": [
 {"width": 722, "height": 276, "resolve": {"axis": {"x": "independent"}}, "layer": [
  {"data": {"name": "a1"}, "mark": {"type": "line", "color": "black", "strokeWidth": 1},
   "encoding": {"x": {"field": "x", "type": "quantitative", "scale": {"domain": [100, 1800], "zero": false, "nice": false}, "axis": {"orient": "bottom", "values": [250,500,750,1000,1250,1500,1750], "tickSize": -8, "domain": false, "labels": false, "title": null}},
                "y": {"field": "y", "type": "quantitative", "scale": {"domain": [0, 276]}, "axis": null}}},
  {"data": {"name": "ma1"}, "transform": [{"filter": "datum.k == 'dot'"}], "mark": {"type": "circle", "size": 200, "color": "black", "opacity": 1},
   "encoding": {"x": {"field": "x", "type": "quantitative", "scale": {"domain": [100, 1800], "zero": false, "nice": false}, "axis": {"orient": "bottom", "values": [125,375,625,875,1125,1375,1625], "tickSize": -4, "domain": false, "labels": false, "title": null}},
                "y": {"field": "y", "type": "quantitative"}}},
  {"data": {"name": "ma1"}, "transform": [{"filter": "datum.k == 'lab'"}], "mark": {"type": "text", "fontSize": 28, "fontWeight": "bold", "baseline": "middle", "color": "black"},
   "encoding": {"x": {"field": "x", "type": "quantitative", "scale": {"domain": [100, 1800], "zero": false, "nice": false}, "axis": null}, "y": {"field": "y", "type": "quantitative"}, "text": {"field": "t"}}},
  {"data": {"name": "ma1"}, "transform": [{"filter": "datum.k == 'name'"}], "mark": {"type": "text", "fontSize": 30, "fontWeight": "bold", "align": "left", "baseline": "alphabetic", "color": "black"},
   "encoding": {"x": {"field": "x", "type": "quantitative", "scale": {"domain": [100, 1800], "zero": false, "nice": false}, "axis": null}, "y": {"field": "y", "type": "quantitative"}, "text": {"field": "t"}}},
  {"data": {"name": "ma1"}, "transform": [{"filter": "datum.k == 'tag'"}], "mark": {"type": "text", "fontSize": 36, "fontWeight": "bold", "align": "left", "baseline": "middle", "color": "black"},
   "encoding": {"x": {"field": "x", "type": "quantitative", "scale": {"domain": [100, 1800], "zero": false, "nice": false}, "axis": null}, "y": {"field": "y", "type": "quantitative"}, "text": {"field": "t"}}}
 ]},
 {"width": 672, "height": 276, "resolve": {"axis": {"x": "independent"}}, "layer": [
  {"data": {"name": "b1"}, "mark": {"type": "line", "color": "black", "strokeWidth": 1.3},
   "encoding": {"x": {"field": "x", "type": "quantitative", "scale": {"domain": [100, 800], "zero": false, "nice": false}, "axis": {"orient": "bottom", "values": [150,300,450,600,750], "tickSize": -8, "domain": false, "labels": false, "title": null}},
                "y": {"field": "y", "type": "quantitative", "scale": {"domain": [0, 276]}, "axis": null}}},
  {"data": {"name": "mb1"}, "transform": [{"filter": "datum.k == 'stem'"}], "mark": {"type": "rule", "color": "black", "strokeWidth": 2},
   "encoding": {"x": {"field": "x", "type": "quantitative", "scale": {"domain": [100, 800], "zero": false, "nice": false}, "axis": null}, "y": {"field": "y", "type": "quantitative"}, "y2": {"field": "y2"}}},
  {"data": {"name": "mb1"}, "transform": [{"filter": "datum.k == 'dot'"}], "mark": {"type": "circle", "size": 190, "color": "black", "opacity": 1},
   "encoding": {"x": {"field": "x", "type": "quantitative", "scale": {"domain": [100, 800], "zero": false, "nice": false}, "axis": {"orient": "bottom", "values": [225,375,525,675], "tickSize": -4, "domain": false, "labels": false, "title": null}},
                "y": {"field": "y", "type": "quantitative"}}},
  {"data": {"name": "mb1"}, "transform": [{"filter": "datum.k == 'lab'"}], "mark": {"type": "text", "fontSize": 28, "fontWeight": "bold", "baseline": "middle", "color": "black"},
   "encoding": {"x": {"field": "x", "type": "quantitative", "scale": {"domain": [100, 800], "zero": false, "nice": false}, "axis": null}, "y": {"field": "y", "type": "quantitative"}, "text": {"field": "t"}}},
  {"data": {"name": "mb1"}, "transform": [{"filter": "datum.k == 'name'"}], "mark": {"type": "text", "fontSize": 30, "fontWeight": "bold", "align": "left", "baseline": "alphabetic", "color": "black"},
   "encoding": {"x": {"field": "x", "type": "quantitative", "scale": {"domain": [100, 800], "zero": false, "nice": false}, "axis": null}, "y": {"field": "y", "type": "quantitative"}, "text": {"field": "t"}}},
  {"data": {"name": "mb1"}, "transform": [{"filter": "datum.k == 'tag'"}], "mark": {"type": "text", "fontSize": 36, "fontWeight": "bold", "align": "left", "baseline": "middle", "color": "black"},
   "encoding": {"x": {"field": "x", "type": "quantitative", "scale": {"domain": [100, 800], "zero": false, "nice": false}, "axis": null}, "y": {"field": "y", "type": "quantitative"}, "text": {"field": "t"}}}
 ]},
 {"width": 722, "height": 276, "resolve": {"axis": {"x": "independent"}}, "layer": [
  {"data": {"name": "a2"}, "mark": {"type": "line", "color": "black", "strokeWidth": 1},
   "encoding": {"x": {"field": "x", "type": "quantitative", "scale": {"domain": [100, 1800], "zero": false, "nice": false}, "axis": {"orient": "bottom", "values": [250,500,750,1000,1250,1500,1750], "tickSize": -8, "domain": false, "labels": false, "title": null}},
                "y": {"field": "y", "type": "quantitative", "scale": {"domain": [0, 276]}, "axis": {"title": "Intensity (counts)", "titleFontSize": 39, "labels": false, "ticks": false, "domain": false, "titleX": -29, "titleY": 268, "titleAngle": -90, "titleAlign": "center", "titleBaseline": "alphabetic"}}}},
  {"data": {"name": "ma2"}, "transform": [{"filter": "datum.k == 'dot'"}], "mark": {"type": "circle", "size": 200, "color": "black", "opacity": 1},
   "encoding": {"x": {"field": "x", "type": "quantitative", "scale": {"domain": [100, 1800], "zero": false, "nice": false}, "axis": {"orient": "bottom", "values": [125,375,625,875,1125,1375,1625], "tickSize": -4, "domain": false, "labels": false, "title": null}},
                "y": {"field": "y", "type": "quantitative"}}},
  {"data": {"name": "ma2"}, "transform": [{"filter": "datum.k == 'lab'"}], "mark": {"type": "text", "fontSize": 28, "fontWeight": "bold", "baseline": "middle", "color": "black"},
   "encoding": {"x": {"field": "x", "type": "quantitative", "scale": {"domain": [100, 1800], "zero": false, "nice": false}, "axis": null}, "y": {"field": "y", "type": "quantitative"}, "text": {"field": "t"}}},
  {"data": {"name": "ma2"}, "transform": [{"filter": "datum.k == 'name'"}], "mark": {"type": "text", "fontSize": 30, "fontWeight": "bold", "align": "left", "baseline": "alphabetic", "color": "black"},
   "encoding": {"x": {"field": "x", "type": "quantitative", "scale": {"domain": [100, 1800], "zero": false, "nice": false}, "axis": null}, "y": {"field": "y", "type": "quantitative"}, "text": {"field": "t"}}}
 ]},
 {"width": 672, "height": 276, "resolve": {"axis": {"x": "independent"}}, "layer": [
  {"data": {"name": "b2"}, "mark": {"type": "line", "color": "black", "strokeWidth": 1.3},
   "encoding": {"x": {"field": "x", "type": "quantitative", "scale": {"domain": [100, 800], "zero": false, "nice": false}, "axis": {"orient": "bottom", "values": [150,300,450,600,750], "tickSize": -8, "domain": false, "labels": false, "title": null}},
                "y": {"field": "y", "type": "quantitative", "scale": {"domain": [0, 276]}, "axis": {"title": "Intensity (counts)", "titleFontSize": 39, "labels": false, "ticks": false, "domain": false, "titleX": -30, "titleY": 264, "titleAngle": -90, "titleAlign": "center", "titleBaseline": "alphabetic"}}}},
  {"data": {"name": "mb2"}, "transform": [{"filter": "datum.k == 'dot'"}], "mark": {"type": "circle", "size": 190, "color": "black", "opacity": 1},
   "encoding": {"x": {"field": "x", "type": "quantitative", "scale": {"domain": [100, 800], "zero": false, "nice": false}, "axis": {"orient": "bottom", "values": [225,375,525,675], "tickSize": -4, "domain": false, "labels": false, "title": null}},
                "y": {"field": "y", "type": "quantitative"}}},
  {"data": {"name": "mb2"}, "transform": [{"filter": "datum.k == 'lab'"}], "mark": {"type": "text", "fontSize": 28, "fontWeight": "bold", "baseline": "middle", "color": "black"},
   "encoding": {"x": {"field": "x", "type": "quantitative", "scale": {"domain": [100, 800], "zero": false, "nice": false}, "axis": null}, "y": {"field": "y", "type": "quantitative"}, "text": {"field": "t"}}},
  {"data": {"name": "mb2"}, "transform": [{"filter": "datum.k == 'name'"}], "mark": {"type": "text", "fontSize": 30, "fontWeight": "bold", "align": "left", "baseline": "alphabetic", "color": "black"},
   "encoding": {"x": {"field": "x", "type": "quantitative", "scale": {"domain": [100, 800], "zero": false, "nice": false}, "axis": null}, "y": {"field": "y", "type": "quantitative"}, "text": {"field": "t"}}}
 ]},
 {"width": 722, "height": 276, "resolve": {"axis": {"x": "independent"}}, "layer": [
  {"data": {"name": "a3"}, "mark": {"type": "line", "color": "black", "strokeWidth": 1},
   "encoding": {"x": {"field": "x", "type": "quantitative", "scale": {"domain": [100, 1800], "zero": false, "nice": false}, "axis": {"orient": "bottom", "values": [250,500,750,1000,1250,1500,1750], "tickSize": -8, "domain": false, "labels": false, "title": null}},
                "y": {"field": "y", "type": "quantitative", "scale": {"domain": [0, 276]}, "axis": null}}},
  {"data": {"name": "ma3"}, "transform": [{"filter": "datum.k == 'dot'"}], "mark": {"type": "circle", "size": 200, "color": "black", "opacity": 1},
   "encoding": {"x": {"field": "x", "type": "quantitative", "scale": {"domain": [100, 1800], "zero": false, "nice": false}, "axis": {"orient": "bottom", "values": [125,375,625,875,1125,1375,1625], "tickSize": -4, "domain": false, "labels": false, "title": null}},
                "y": {"field": "y", "type": "quantitative"}}},
  {"data": {"name": "ma3"}, "transform": [{"filter": "datum.k == 'lab'"}], "mark": {"type": "text", "fontSize": 28, "fontWeight": "bold", "baseline": "middle", "color": "black"},
   "encoding": {"x": {"field": "x", "type": "quantitative", "scale": {"domain": [100, 1800], "zero": false, "nice": false}, "axis": null}, "y": {"field": "y", "type": "quantitative"}, "text": {"field": "t"}}},
  {"data": {"name": "ma3"}, "transform": [{"filter": "datum.k == 'name'"}], "mark": {"type": "text", "fontSize": 30, "fontWeight": "bold", "align": "left", "baseline": "alphabetic", "color": "black"},
   "encoding": {"x": {"field": "x", "type": "quantitative", "scale": {"domain": [100, 1800], "zero": false, "nice": false}, "axis": null}, "y": {"field": "y", "type": "quantitative"}, "text": {"field": "t"}}}
 ]},
 {"width": 672, "height": 276, "resolve": {"axis": {"x": "independent"}}, "layer": [
  {"data": {"name": "b3"}, "mark": {"type": "line", "color": "black", "strokeWidth": 1.3},
   "encoding": {"x": {"field": "x", "type": "quantitative", "scale": {"domain": [100, 800], "zero": false, "nice": false}, "axis": {"orient": "bottom", "values": [150,300,450,600,750], "tickSize": -8, "domain": false, "labels": false, "title": null}},
                "y": {"field": "y", "type": "quantitative", "scale": {"domain": [0, 276]}, "axis": null}}},
  {"data": {"name": "mb3"}, "transform": [{"filter": "datum.k == 'dot'"}], "mark": {"type": "circle", "size": 190, "color": "black", "opacity": 1},
   "encoding": {"x": {"field": "x", "type": "quantitative", "scale": {"domain": [100, 800], "zero": false, "nice": false}, "axis": {"orient": "bottom", "values": [225,375,525,675], "tickSize": -4, "domain": false, "labels": false, "title": null}},
                "y": {"field": "y", "type": "quantitative"}}},
  {"data": {"name": "mb3"}, "transform": [{"filter": "datum.k == 'lab'"}], "mark": {"type": "text", "fontSize": 28, "fontWeight": "bold", "baseline": "middle", "color": "black"},
   "encoding": {"x": {"field": "x", "type": "quantitative", "scale": {"domain": [100, 800], "zero": false, "nice": false}, "axis": null}, "y": {"field": "y", "type": "quantitative"}, "text": {"field": "t"}}},
  {"data": {"name": "mb3"}, "transform": [{"filter": "datum.k == 'name'"}], "mark": {"type": "text", "fontSize": 30, "fontWeight": "bold", "align": "left", "baseline": "alphabetic", "color": "black"},
   "encoding": {"x": {"field": "x", "type": "quantitative", "scale": {"domain": [100, 800], "zero": false, "nice": false}, "axis": null}, "y": {"field": "y", "type": "quantitative"}, "text": {"field": "t"}}}
 ]},
 {"width": 722, "height": 276, "resolve": {"axis": {"x": "independent"}}, "layer": [
  {"data": {"name": "a4"}, "mark": {"type": "line", "color": "black", "strokeWidth": 1},
   "encoding": {"x": {"field": "x", "type": "quantitative", "scale": {"domain": [100, 1800], "zero": false, "nice": false}, "axis": {"orient": "bottom", "values": [250,500,750,1000,1250,1500,1750], "format": "d", "tickSize": -8, "domain": false, "labels": true, "labelPadding": 20, "title": "Raman shift (cm⁻¹)", "titlePadding": 27}},
                "y": {"field": "y", "type": "quantitative", "scale": {"domain": [0, 276]}, "axis": null}}},
  {"data": {"name": "ma4"}, "transform": [{"filter": "datum.k == 'dot'"}], "mark": {"type": "circle", "size": 200, "color": "black", "opacity": 1},
   "encoding": {"x": {"field": "x", "type": "quantitative", "scale": {"domain": [100, 1800], "zero": false, "nice": false}, "axis": {"orient": "bottom", "values": [125,375,625,875,1125,1375,1625], "tickSize": -4, "domain": false, "labels": false, "title": null}},
                "y": {"field": "y", "type": "quantitative"}}},
  {"data": {"name": "ma4"}, "transform": [{"filter": "datum.k == 'lab'"}], "mark": {"type": "text", "fontSize": 28, "fontWeight": "bold", "baseline": "middle", "color": "black"},
   "encoding": {"x": {"field": "x", "type": "quantitative", "scale": {"domain": [100, 1800], "zero": false, "nice": false}, "axis": null}, "y": {"field": "y", "type": "quantitative"}, "text": {"field": "t"}}},
  {"data": {"name": "ma4"}, "transform": [{"filter": "datum.k == 'name'"}], "mark": {"type": "text", "fontSize": 30, "fontWeight": "bold", "align": "left", "baseline": "alphabetic", "color": "black"},
   "encoding": {"x": {"field": "x", "type": "quantitative", "scale": {"domain": [100, 1800], "zero": false, "nice": false}, "axis": null}, "y": {"field": "y", "type": "quantitative"}, "text": {"field": "t"}}}
 ]},
 {"width": 672, "height": 276, "resolve": {"axis": {"x": "independent"}}, "layer": [
  {"data": {"name": "b4"}, "mark": {"type": "line", "color": "black", "strokeWidth": 1.3},
   "encoding": {"x": {"field": "x", "type": "quantitative", "scale": {"domain": [100, 800], "zero": false, "nice": false}, "axis": {"orient": "bottom", "values": [150,300,450,600,750], "format": "d", "tickSize": -8, "domain": false, "labels": true, "labelPadding": 20, "title": "Raman shift(cm⁻¹)", "titlePadding": 27}},
                "y": {"field": "y", "type": "quantitative", "scale": {"domain": [0, 276]}, "axis": null}}},
  {"data": {"name": "mb4"}, "transform": [{"filter": "datum.k == 'dot'"}], "mark": {"type": "circle", "size": 190, "color": "black", "opacity": 1},
   "encoding": {"x": {"field": "x", "type": "quantitative", "scale": {"domain": [100, 800], "zero": false, "nice": false}, "axis": {"orient": "bottom", "values": [225,375,525,675], "tickSize": -4, "domain": false, "labels": false, "title": null}},
                "y": {"field": "y", "type": "quantitative"}}},
  {"data": {"name": "mb4"}, "transform": [{"filter": "datum.k == 'lab'"}], "mark": {"type": "text", "fontSize": 28, "fontWeight": "bold", "baseline": "middle", "color": "black"},
   "encoding": {"x": {"field": "x", "type": "quantitative", "scale": {"domain": [100, 800], "zero": false, "nice": false}, "axis": null}, "y": {"field": "y", "type": "quantitative"}, "text": {"field": "t"}}},
  {"data": {"name": "mb4"}, "transform": [{"filter": "datum.k == 'name'"}], "mark": {"type": "text", "fontSize": 30, "fontWeight": "bold", "align": "left", "baseline": "alphabetic", "color": "black"},
   "encoding": {"x": {"field": "x", "type": "quantitative", "scale": {"domain": [100, 800], "zero": false, "nice": false}, "axis": null}, "y": {"field": "y", "type": "quantitative"}, "text": {"field": "t"}}}
 ]}
]
}
